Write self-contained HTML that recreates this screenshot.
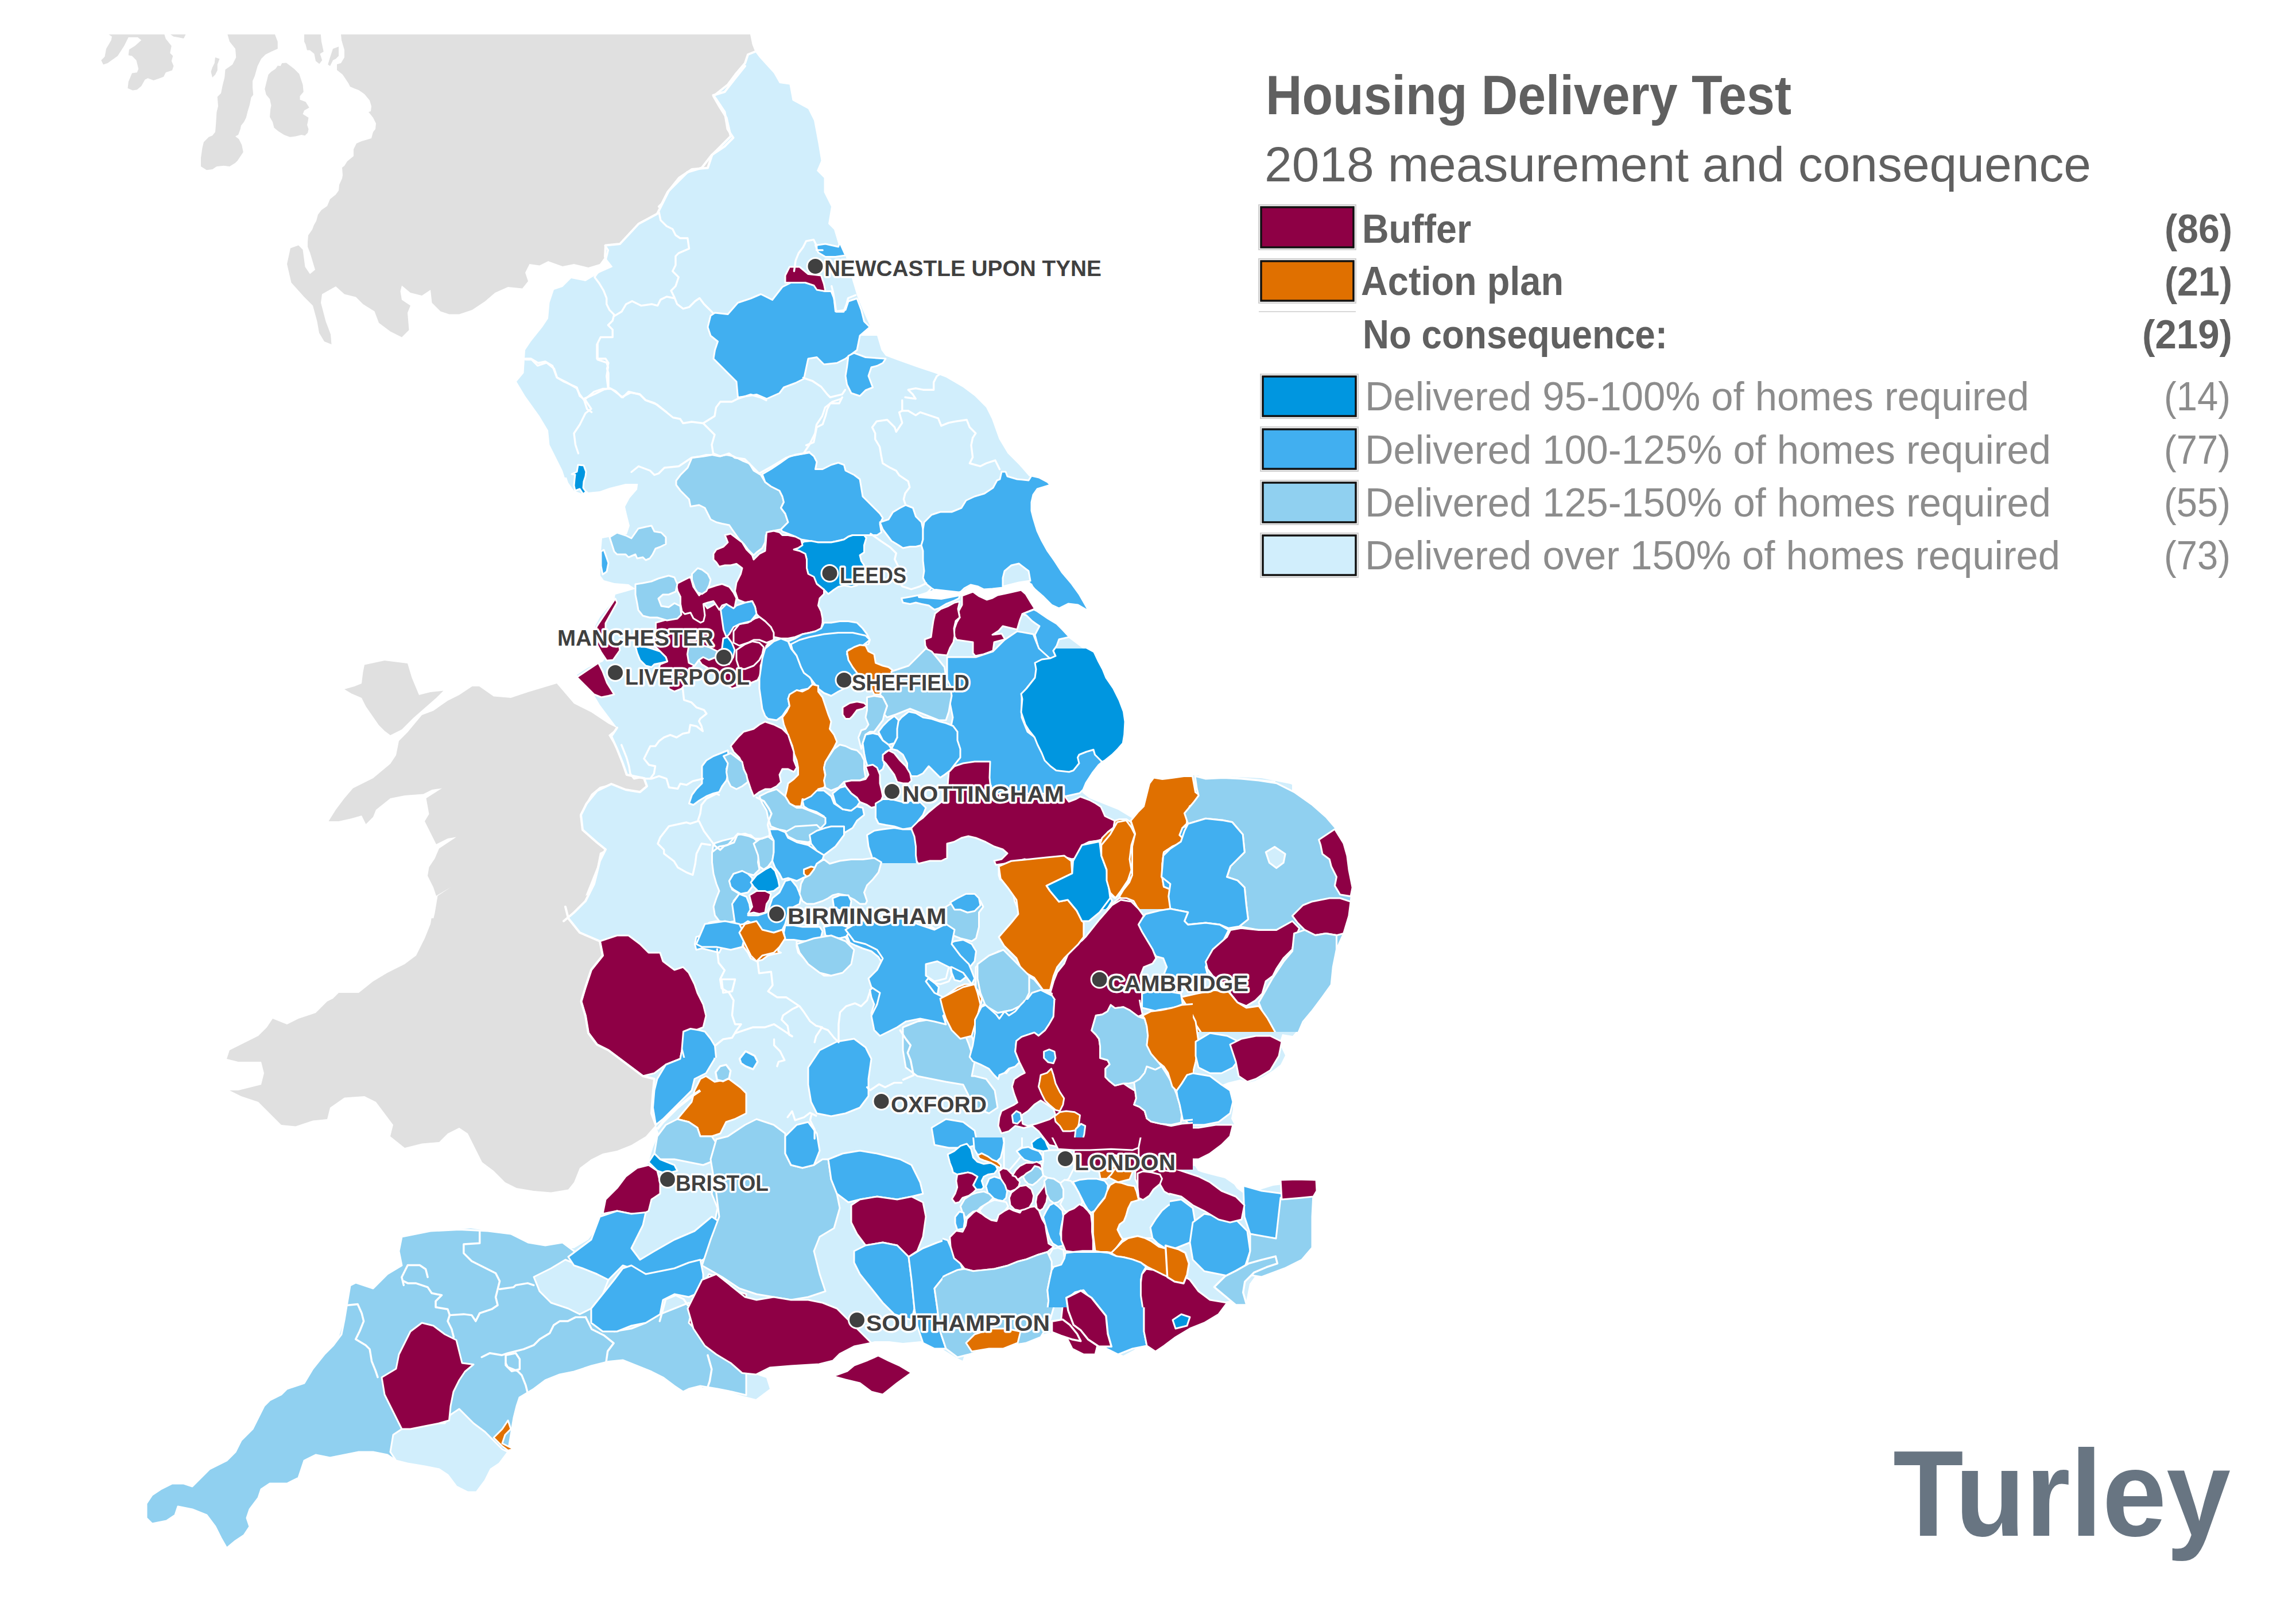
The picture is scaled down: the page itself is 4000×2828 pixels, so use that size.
<!DOCTYPE html>
<html><head><meta charset="utf-8"><title>Housing Delivery Test</title>
<style>
html,body{margin:0;padding:0;background:#fff;}
body{width:4000px;height:2828px;overflow:hidden;position:relative;}
svg{position:absolute;left:0;top:0;}
.t{font-family:"Liberation Sans",Arial,sans-serif;}
.lab{font-family:"Liberation Sans",Arial,sans-serif;font-weight:bold;font-size:38px;fill:#404040;stroke:#fff;stroke-width:7px;paint-order:stroke;stroke-linejoin:round;}
</style></head>
<body>
<svg width="4000" height="2828" viewBox="0 0 4000 2828" xmlns="http://www.w3.org/2000/svg">
<defs>
<clipPath id="mapclip"><rect x="0" y="60" width="4000" height="2768"/></clipPath>
<clipPath id="cA1"><rect x="0" y="0" width="1224" height="832"/></clipPath>
<clipPath id="cB1"><rect x="1222" y="0" width="1200" height="832"/></clipPath>
<clipPath id="cA2"><rect x="0" y="830" width="1224" height="772"/></clipPath>
<clipPath id="cB2"><rect x="1222" y="830" width="1029" height="772"/></clipPath>
<clipPath id="cC2"><rect x="2249" y="830" width="800" height="772"/></clipPath>
<clipPath id="cA3"><rect x="0" y="1600" width="1224" height="766"/></clipPath>
<clipPath id="cB3"><rect x="1222" y="1600" width="1029" height="766"/></clipPath>
<clipPath id="cC3"><rect x="2249" y="1600" width="800" height="766"/></clipPath>
<clipPath id="cA4"><rect x="0" y="2364" width="1224" height="500"/></clipPath>
<clipPath id="cB4"><rect x="1222" y="2364" width="1029" height="500"/></clipPath>
<clipPath id="cC4"><rect x="2249" y="2364" width="800" height="500"/></clipPath>
<clipPath id="cSE"><rect x="2249" y="830" width="800" height="2000"/><rect x="1222" y="1600" width="1800" height="1228"/></clipPath>
<clipPath id="cV2"><rect x="1098" y="1050" width="622" height="454"/></clipPath>
<clipPath id="cV3"><rect x="1600" y="1130" width="622" height="454"/></clipPath>
<clipPath id="cV5"><rect x="1650" y="1250" width="748" height="548"/></clipPath>
<clipPath id="cV7"><rect x="1098" y="1390" width="622" height="453"/></clipPath>
<clipPath id="cV8"><rect x="1682" y="1742" width="396" height="296"/></clipPath>
<clipPath id="cV9"><rect x="1642" y="1982" width="396" height="296"/></clipPath>
</defs>
<g clip-path="url(#mapclip)">
<!-- GRAY LAND -->
<g id="gray" fill="#e0e0e0">
<!--A1 gray-->
<g clip-path="url(#cA1)"><g transform="translate(150 40) scale(0.5)">
<path d="M888,40 L2296,40 L2296,150 L2260,195 L2225,240 L2185,252 L2197,268 L2225,310 L2235,370 L2255,400 L2225,430 L2180,460 L2145,505 L2095,520 L2030,585 L2010,625 L1990,665 L1925,700 L1860,770 L1810,775 L1808,815 L1790,840 L1750,852 L1700,840 L1660,848 L1610,830 L1580,845 L1545,840 L1530,870 L1540,900 L1520,925 L1470,920 L1425,940 L1390,970 L1345,1000 L1300,1015 L1265,1015 L1235,1005 L1205,975 L1200,930 L1170,950 L1130,940 L1100,915 L1095,935 L1100,965 L1130,985 L1120,1010 L1125,1070 L1100,1095 L1060,1075 L1020,1045 L1005,1005 L965,980 L940,955 L900,945 L870,918 L822,945 L818,975 L835,1040 L852,1085 L855,1120 L830,1110 L812,1080 L805,1040 L790,985 L760,955 L715,905 L700,840 L712,785 L740,775 L755,790 L763,850 L780,875 L798,860 L780,800 L772,780 L772,764 L774,740 L788,720 L794,704 L802,690 L808,668 L820,652 L840,638 L850,614 L870,598 L880,584 L882,564 L892,542 L894,530 L892,504 L900,498 L910,482 L932,464 L932,440 L942,420 L960,412 L974,408 L994,402 L1000,380 L1008,370 L1010,350 L1000,330 L984,310 L992,308 L994,290 L988,270 L970,248 L950,234 L934,228 L920,222 L914,210 L894,180 L874,164 L874,144 L888,140 L900,120 L900,94 L890,60 Z"/>
</g>
<g transform="translate(150 40) scale(0.25)">
<path d="M155,78 L545,78 L555,110 L595,160 L585,210 L605,230 L595,265 L610,300 L600,330 L555,345 L540,375 L500,390 L470,400 L430,385 L410,395 L385,440 L355,465 L325,470 L290,455 L295,410 L320,350 L355,345 L365,320 L350,260 L320,230 L295,225 L300,185 L340,160 L385,120 L360,100 L295,100 L265,160 L220,230 L150,280 L120,290 L105,260 L130,235 L140,180 L175,120 L180,95 Z"/>
<path d="M585,78 L695,78 L680,108 L640,100 L610,95 Z"/>
<path d="M900,240 L930,250 L915,290 L915,330 L900,360 L880,380 L870,340 L880,310 L895,280 Z"/>
<path d="M985,78 L1315,78 L1335,130 L1335,180 L1290,200 L1250,220 L1220,250 L1195,300 L1175,370 L1160,405 L1160,450 L1165,500 L1150,520 L1140,570 L1125,620 L1115,660 L1100,690 L1080,715 L1075,740 L1060,780 L1040,790 L1065,810 L1085,850 L1095,900 L1055,960 L1040,975 L1000,1000 L960,995 L910,1000 L880,1020 L840,1025 L800,1000 L800,940 L810,870 L820,830 L855,795 L880,785 L900,760 L905,700 L910,620 L920,580 L915,515 L940,490 L950,440 L965,380 L970,325 L1020,290 L1045,240 L1040,180 L1000,130 Z"/>
<path d="M1365,280 L1395,278 L1450,320 L1485,355 L1495,385 L1510,430 L1515,480 L1490,510 L1490,535 L1530,550 L1555,590 L1520,610 L1510,635 L1550,660 L1545,690 L1540,710 L1550,740 L1545,765 L1525,785 L1500,780 L1460,790 L1420,795 L1380,780 L1340,755 L1310,730 L1300,690 L1280,655 L1285,600 L1290,575 L1280,530 L1255,500 L1245,460 L1255,420 L1270,360 L1290,340 L1320,320 L1335,298 L1355,300 Z"/>
<path d="M1520,78 L1635,78 L1640,130 L1655,200 L1630,215 L1645,260 L1625,285 L1600,265 L1590,215 L1560,190 L1540,190 L1530,150 L1520,130 Z"/>
<path d="M1700,240 L1720,180 L1760,165 L1760,230 L1740,250 L1720,260 L1700,300 L1685,290 Z"/>
</g></g>
<!--A2 gray-->
<g clip-path="url(#cA2)"><g transform="translate(150 811) scale(0.5)">
<path d="M1640,760 L1540,790 L1480,810 L1420,805 L1370,770 L1345,770 L1300,800 L1260,820 L1210,855 L1170,870 L1120,930 L1090,960 L1080,1010 L1060,1040 L1000,1090 L960,1110 L930,1125 L900,1160 L870,1200 L845,1240 L880,1240 L925,1230 L960,1220 L975,1250 L1000,1225 L1010,1200 L1060,1160 L1110,1150 L1175,1145 L1205,1130 L1240,1125 L1185,1160 L1195,1215 L1180,1240 L1200,1280 L1220,1320 L1260,1300 L1290,1295 L1230,1335 L1215,1370 L1195,1400 L1190,1430 L1210,1470 L1220,1500 L1270,1470 L1225,1500 L1215,1560 L1200,1622 L1200,1700 L1660,1700 L1660,1622 L1670,1600 L1690,1570 L1720,1540 L1800,1510 L1800,1465 L1740,1500 L1760,1450 L1780,1400 L1790,1350 L1820,1335 L1800,1320 L1770,1300 L1730,1270 L1720,1220 L1740,1180 L1760,1145 L1790,1120 L1830,1110 L1870,1125 L1915,1140 L1955,1130 L1950,1090 L1880,1080 L1870,1040 L1850,990 L1820,940 L1850,915 L1820,900 L1760,860 L1700,830 Z"/>
<path d="M970,695 L1040,680 L1120,690 L1135,740 L1160,800 L1200,790 L1245,785 L1220,810 L1180,845 L1140,880 L1100,920 L1060,940 L1040,925 L1020,905 L975,840 L960,810 L925,795 L900,780 L935,770 L960,760 L965,720 Z"/>
</g></g>
<!--A3 gray-->
<g clip-path="url(#cA3)"><g transform="translate(150 1580) scale(0.5)">
<path d="M1210,0 L1200,60 L1180,110 L1150,170 L1110,200 L1050,230 L1000,260 L950,300 L880,300 L860,320 L840,330 L800,370 L740,390 L700,410 L650,390 L630,420 L600,450 L540,480 L500,500 L490,530 L530,540 L610,540 L620,580 L610,620 L570,630 L530,640 L500,640 L540,660 L600,680 L640,720 L680,760 L730,765 L790,745 L840,740 L850,700 L900,665 L970,660 L1010,680 L1040,720 L1070,760 L1060,800 L1110,840 L1170,825 L1230,820 L1260,790 L1300,770 L1330,790 L1360,850 L1380,890 L1420,920 L1460,960 L1500,980 L1560,990 L1620,995 L1680,985 L1700,960 L1720,910 L1760,880 L1800,860 L1850,850 L1900,830 L1950,800 L1985,760 L1970,720 L1975,650 L1980,600 L1940,590 L1900,560 L1860,530 L1820,500 L1780,480 L1750,440 L1740,380 L1725,330 L1740,280 L1760,220 L1800,170 L1790,120 L1720,90 L1680,40 L1670,0 L1670,-60 L1210,-60 Z"/>
</g></g>
<!--B1 gray-->
<g clip-path="url(#cB1)"><g transform="translate(1148 40) scale(0.5)">
<path d="M0,40 L318,40 L325,75 L335,100 L310,110 L300,140 L270,175 L240,215 L190,255 L210,290 L235,330 L250,395 L230,415 L185,460 L170,505 L115,510 L70,540 L30,590 L10,630 L0,640 Z"/>
</g></g>
</g>
<!-- ENGLAND BASE -->
<g id="base" fill="#d1eefc">
<g clip-path="url(#cA1)"><g transform="translate(150 40) scale(0.5)">
<path d="M2296,150 L2260,195 L2225,240 L2185,252 L2197,268 L2225,310 L2235,370 L2255,400 L2225,430 L2180,460 L2145,505 L2095,520 L2030,585 L2010,625 L1990,665 L1925,700 L1860,770 L1810,775 L1808,815 L1835,850 L1790,870 L1740,900 L1690,890 L1660,920 L1630,930 L1615,975 L1610,1030 L1590,1060 L1550,1110 L1530,1140 L1525,1220 L1500,1250 L1530,1300 L1580,1370 L1610,1420 L1615,1470 L1640,1520 L1660,1560 L1680,1622 L2296,1622 Z"/>
</g></g>
<g clip-path="url(#cB1)"><g transform="translate(1148 40) scale(0.5)">
<path d="M335,100 L350,120 L400,175 L420,210 L455,215 L465,270 L520,300 L540,340 L555,420 L565,480 L550,515 L575,540 L575,590 L600,640 L590,700 L610,720 L625,770 L650,810 L675,900 L690,950 L710,1000 L735,1055 L705,1090 L760,1090 L775,1140 L790,1160 L830,1175 L900,1200 L960,1220 L1000,1235 L1060,1270 L1100,1300 L1140,1340 L1160,1380 L1185,1450 L1215,1500 L1255,1540 L1290,1580 L1340,1590 L1365,1605 L1365,1622 L0,1622 L0,640 L10,630 L30,590 L70,540 L115,510 L170,505 L185,460 L230,415 L250,395 L235,330 L210,290 L190,255 L240,215 L270,175 L300,140 L310,110 Z"/>
</g></g>
<g clip-path="url(#cA2)">
<path d="M1116,826 L1230,826 L1230,1605 L982,1605 L1000,1590 L1020,1570 L1035,1540 L1045,1500 L1055,1480 L1040,1468 L1015,1446 L1012,1420 L1022,1400 L1040,1378 L1065,1366 L1090,1376 L1115,1380 L1127,1370 L1122,1356 L1092,1350 L1085,1330 L1075,1305 L1065,1283 L1075,1268 L1060,1248 L1045,1228 L1035,1211 L1017,1193 L1005,1176 L1025,1163 L1050,1153 L1055,1146 L1047,1128 L1040,1111 L1037,1091 L1045,1076 L1057,1061 L1070,1046 L1072,1036 L1090,1031 L1107,1026 L1095,1018 L1070,1016 L1052,1011 L1046,1003 L1046,986 L1047,961 L1049,938 L1060,936 L1075,931 L1092,931 L1097,916 L1092,896 L1089,883 L1097,868 L1110,853 L1112,838 Z"/>
<path d="M1017,826 L1117,826 L1117,843 L1090,843 L1062,850 L1045,856 L1025,858 L1017,850 Z"/>
<path d="M985,826 L1045,826 L1031,840 L1025,852 L1021,857 L1016,861 L1000,855 L990,841 Z"/>
</g>
<g clip-path="url(#cB2)"><g transform="translate(1148 811) scale(0.5)">
<path d="M0,0 L1290,0 L1298,36 L1324,42 L1354,58 L1364,68 L1338,76 L1318,82 L1304,102 L1298,158 L1304,182 L1318,228 L1334,262 L1354,298 L1378,332 L1404,372 L1438,412 L1464,448 L1488,490 L1495,502 L1470,490 L1420,480 L1380,470 L1350,470 L1330,480 L1310,495 L1350,540 L1400,580 L1440,610 L1480,640 L1520,680 L1550,720 L1580,790 L1600,830 L1620,880 L1625,930 L1610,970 L1570,1000 L1540,1020 L1510,1050 L1490,1080 L1475,1140 L1500,1160 L1550,1180 L1600,1200 L1650,1230 L1700,1230 L1740,1150 L1790,1100 L1850,1080 L1880,1080 L1900,1100 L1950,1090 L2000,1085 L2100,1090 L2200,1110 L2250,1130 L2296,1150 L2296,1622 L0,1622 Z"/>
</g></g>
<g clip-path="url(#cA3)"><g transform="translate(150 1580) scale(0.5)">
<path d="M1670,-60 L2296,-60 L2296,1700 L700,1700 L780,1622 L820,1570 L860,1530 L880,1500 L900,1440 L910,1380 L920,1320 L940,1310 L1000,1330 L1050,1280 L1100,1250 L1090,1200 L1100,1150 L1150,1140 L1250,1130 L1340,1120 L1400,1130 L1480,1140 L1540,1170 L1600,1180 L1660,1190 L1700,1190 L1750,1160 L1780,1120 L1800,1060 L1840,1020 L1900,975 L1940,930 L1960,890 L1975,840 L1995,790 L1985,760 L1970,720 L1975,650 L1980,600 L1940,590 L1900,560 L1860,530 L1820,500 L1780,480 L1750,440 L1740,380 L1725,330 L1740,280 L1760,220 L1800,170 L1790,120 L1720,90 L1680,40 L1670,0 Z"/>
</g></g>
<g clip-path="url(#cSE)"><path d="M1223,1340 L2082,1352 L2100,1357 L2131,1355 L2162,1357 L2193,1360 L2224,1365 L2255,1380 L2285,1402 L2310,1423 L2328,1445 L2341,1469 L2347,1491 L2350,1516 L2356,1546 L2353,1571 L2350,1596 L2341,1627 L2328,1654 L2322,1685 L2319,1716 L2304,1737 L2291,1750 L2278,1771 L2270,1784 L2252,1805 L2234,1802 L2229,1818 L2239,1839 L2231,1855 L2218,1865 L2202,1875 L2187,1883 L2176,1886 L2161,1881 L2140,1886 L2127,1891 L2121,1896 L2140,1902 L2148,1912 L2148,1933 L2145,1949 L2150,1959 L2134,1977 L2121,1990 L2108,2001 L2087,2006 L2061,2009 L2051,2011 L2046,2024 L2061,2027 L2082,2032 L2087,2040 L2095,2043 L2114,2048 L2134,2053 L2150,2064 L2155,2071 L2166,2079 L2192,2074 L2218,2066 L2234,2064 L2257,2058 L2289,2056 L2294,2064 L2291,2079 L2276,2090 L2273,2100 L2281,2116 L2286,2137 L2286,2158 L2283,2174 L2268,2192 L2240,2200 L2220,2200 L2195,2212 L2177,2237 L2171,2267 L2140,2267 L2110,2273 L2073,2291 L2037,2310 L2000,2331 L1976,2352 L1957,2362 L1933,2352 L1902,2340 L1866,2328 L1829,2322 L1793,2331 L1744,2337 L1707,2346 L1683,2352 L1677,2371 L1665,2365 L1634,2346 L1604,2337 L1573,2340 L1549,2337 L1524,2337 L1512,2340 L1488,2346 L1463,2359 L1451,2371 L1427,2377 L1378,2380 L1341,2383 L1317,2395 L1335,2401 L1341,2420 L1317,2438 L1293,2432 L1244,2416 L1223,2418 Z"/></g>
</g>
<!-- COLOURED REGIONS -->
<g id="regions" stroke="#fff" stroke-width="3" stroke-linejoin="round">
<!--A4 2x 150,2200-->
<g transform="translate(150 2200) scale(0.5)" stroke-width="6">
<path fill="#90d0f0" d="M1100,-90 L1200,-110 L1300,-115 L1400,-110 L1480,-100 L1540,-70 L1600,-60 L1660,-70 L1700,-40 L1740,20 L1760,90 L1780,160 L1840,240 L1900,230 L1950,210 L2000,180 L2050,160 L2100,140 L2200,320 L2300,320 L2300,462 L2250,450 L2200,440 L2140,430 L2100,440 L2080,450 L2050,430 L2010,400 L1970,380 L1920,360 L1870,340 L1820,345 L1760,360 L1700,380 L1650,390 L1600,410 L1560,440 L1510,470 L1500,500 L1490,540 L1480,600 L1470,660 L1440,700 L1410,720 L1390,760 L1360,800 L1330,800 L1290,780 L1260,740 L1230,720 L1180,710 L1120,700 L1080,690 L1050,670 L1000,660 L950,660 L900,670 L850,680 L800,670 L760,690 L740,750 L700,770 L640,770 L610,790 L600,820 L570,860 L560,890 L570,920 L550,950 L520,970 L490,995 L470,960 L450,920 L420,880 L370,860 L320,850 L310,880 L280,900 L230,910 L210,890 L210,840 L230,810 L260,790 L300,770 L340,770 L370,780 L400,750 L430,720 L490,690 L520,660 L540,620 L560,600 L580,580 L600,540 L620,500 L640,480 L680,460 L700,440 L760,420 L790,370 L830,320 L860,290 L890,250 L900,200 L910,140 L920,80 L940,70 L1000,90 L1050,40 L1100,10 L1090,-40 Z"/>
<path fill="#d1eefc" d="M1070,600 L1100,580 L1150,570 L1200,560 L1250,560 L1270,530 L1300,510 L1330,540 L1350,560 L1390,590 L1420,620 L1450,650 L1470,660 L1440,700 L1410,720 L1390,760 L1360,800 L1330,800 L1290,780 L1260,740 L1230,720 L1180,710 L1120,700 L1080,690 L1060,660 Z"/>
<path fill="#8e0045" d="M1030,400 L1080,370 L1090,320 L1110,280 L1130,240 L1170,210 L1210,220 L1250,250 L1290,270 L1300,310 L1310,350 L1350,355 L1320,380 L1300,410 L1280,450 L1270,500 L1265,550 L1230,560 L1180,570 L1130,580 L1100,580 L1080,540 L1060,500 L1040,460 Z"/>
<path fill="#e07000" d="M1420,610 L1450,580 L1470,550 L1480,580 L1460,600 L1450,630 L1470,640 L1490,650 L1470,655 L1450,640 L1430,620 Z"/>
</g>
<!--A3 2x 150,1580-->
<g transform="translate(150 1580) scale(0.5)" stroke-width="6">
<path fill="#d1eefc" d="M1560,1290 L1620,1260 L1670,1230 L1720,1250 L1780,1280 L1820,1300 L1800,1350 L1760,1400 L1720,1420 L1680,1400 L1620,1380 L1580,1340 Z"/>
<path fill="#8e0045" d="M1800,170 L1790,120 L1850,100 L1890,100 L1930,130 L1960,160 L2000,160 L2010,190 L2050,220 L2080,210 L2100,230 L2120,270 L2130,300 L2150,340 L2160,380 L2150,420 L2100,440 L2080,480 L2070,530 L2020,550 L1980,580 L1940,590 L1900,560 L1860,530 L1820,500 L1780,480 L1750,440 L1740,380 L1725,330 L1740,280 L1760,220 Z"/>
<path fill="#41aff0" d="M1990,600 L2020,550 L2070,530 L2080,480 L2100,440 L2140,440 L2180,470 L2190,530 L2160,580 L2120,600 L2110,640 L2060,690 L2010,740 L1985,760 L1975,700 L1980,640 Z"/>
<path fill="#e07000" d="M2060,740 L2110,680 L2120,640 L2140,600 L2160,590 L2190,610 L2240,600 L2280,630 L2300,650 L2300,720 L2260,740 L2230,750 L2210,790 L2180,800 L2140,800 L2130,770 L2100,750 Z"/>
<path fill="#90d0f0" d="M1980,860 L1990,800 L2020,760 L2060,740 L2100,750 L2130,770 L2140,800 L2180,800 L2200,830 L2200,880 L2150,900 L2100,890 L2050,880 L2000,880 Z"/>
<path fill="#90d0f0" d="M2200,830 L2250,810 L2300,800 L2300,1300 L2250,1260 L2200,1250 L2180,1200 L2190,1100 L2200,1050 L2180,1000 L2190,950 L2200,880 Z"/>
<path fill="#0096e0" d="M1960,890 L1980,860 L2000,880 L2050,900 L2060,920 L2020,930 L1990,920 Z"/>
<path fill="#8e0045" d="M1800,1070 L1810,1020 L1850,980 L1880,940 L1920,910 L1960,900 L1990,920 L2000,960 L2000,1000 L1970,1020 L1960,1060 L1940,1070 L1900,1070 L1850,1060 Z"/>
<path fill="#41aff0" d="M1680,1220 L1720,1190 L1760,1160 L1790,1080 L1850,1060 L1900,1070 L1950,1065 L1940,1110 L1920,1150 L1900,1190 L1930,1230 L1980,1200 L2050,1160 L2120,1130 L2180,1080 L2210,1100 L2200,1150 L2180,1200 L2150,1230 L2100,1250 L2050,1270 L2000,1280 L1980,1290 L1950,1280 L1900,1260 L1870,1250 L1840,1280 L1820,1300 L1780,1280 L1730,1260 L1700,1250 Z"/>
<path fill="#41aff0" d="M1760,1400 L1800,1350 L1840,1300 L1870,1260 L1900,1250 L1950,1280 L2000,1270 L2050,1260 L2100,1240 L2140,1230 L2150,1280 L2150,1340 L2100,1360 L2050,1350 L2010,1370 L2000,1420 L1950,1450 L1900,1460 L1850,1480 L1800,1480 L1760,1450 Z"/>
<path fill="#8e0045" d="M2100,1450 L2120,1370 L2150,1320 L2170,1280 L2200,1290 L2240,1330 L2300,1350 L2300,1560 L2250,1540 L2200,1530 L2170,1500 L2130,1480 Z"/>
<path fill="none" stroke="#fff" stroke-width="10" d="M2140,640 L2110,660 L2060,700 L2010,750 L1990,775"/>
</g>
<!--V4 4x 900,1050-->
<g transform="translate(900 1050) scale(0.25)" stroke-width="12">
<path fill="#8e0045" d="M420,520 L480,480 L570,420 L600,480 L630,560 L680,640 L640,650 L590,660 L540,640 L480,580 Z"/>
<path fill="#8e0045" d="M970,140 L1040,120 L1100,100 L1150,40 L1150,0 L1300,0 L1330,40 L1400,0 L1500,0 L1530,60 L1520,150 L1560,180 L1600,140 L1660,110 L1700,100 L1760,140 L1790,200 L1780,260 L1740,300 L1720,380 L1700,440 L1700,500 L1680,540 L1610,570 L1530,590 L1500,600 L1450,560 L1420,520 L1380,470 L1340,460 L1290,430 L1270,400 L1240,440 L1200,470 L1180,560 L1150,600 L1100,620 L1060,600 L1060,560 L1010,520 L990,460 L1000,430 L1050,410 L1040,380 L1000,340 L960,300 L960,250 L970,200 Z"/>
<path fill="#0096e0" d="M830,310 L870,300 L940,320 L1000,340 L1040,380 L1050,410 L1010,420 L960,430 L940,450 L900,440 L860,400 L840,350 Z"/>
<path fill="#90d0f0" d="M1200,300 L1260,290 L1340,310 L1400,340 L1390,380 L1340,400 L1300,380 L1270,400 L1240,440 L1200,420 L1190,360 Z"/>
<path fill="#0096e0" d="M1440,250 L1470,240 L1500,280 L1520,330 L1510,380 L1480,430 L1450,400 L1430,330 Z"/>
</g>
<!--V1 4x 1148,760-->
<g transform="translate(1148 760) scale(0.25)" stroke-width="12">
<path fill="#90d0f0" d="M120,310 L150,270 L200,220 L230,150 L290,140 L330,130 L370,130 L420,140 L470,130 L520,140 L580,170 L630,190 L660,240 L710,270 L740,320 L780,350 L840,380 L860,420 L870,460 L850,500 L880,540 L900,600 L870,630 L850,650 L770,665 L745,690 L740,740 L720,780 L680,810 L660,830 L620,790 L590,750 L560,720 L510,650 L490,620 L440,610 L400,600 L360,580 L340,540 L320,500 L280,480 L220,490 L210,440 L180,410 L150,380 L120,340 Z"/>
<path fill="#41aff0" d="M720,265 L780,230 L840,190 L910,140 L990,125 L1050,115 L1080,140 L1100,180 L1090,230 L1140,230 L1200,200 L1250,185 L1290,200 L1300,240 L1360,270 L1400,300 L1410,360 L1420,420 L1460,460 L1500,500 L1540,540 L1560,570 L1540,610 L1550,670 L1520,690 L1430,690 L1350,690 L1320,700 L1290,720 L1200,740 L1100,740 L1050,730 L990,720 L950,700 L900,680 L860,665 L850,650 L870,630 L900,600 L880,540 L850,500 L870,460 L860,420 L840,380 L780,350 L740,320 Z"/>
<path fill="#41aff0" d="M1540,600 L1600,580 L1630,530 L1680,500 L1720,480 L1770,500 L1790,560 L1830,600 L1840,650 L1840,720 L1830,760 L1790,770 L1750,770 L1700,780 L1670,760 L1620,730 L1590,690 L1560,650 Z"/>
<path fill="#0096e0" d="M1010,735 L1060,730 L1110,740 L1200,740 L1250,730 L1290,720 L1320,700 L1350,690 L1390,690 L1430,690 L1445,710 L1430,760 L1430,810 L1400,830 L1410,870 L1430,900 L1420,960 L1400,1000 L1380,1040 L1340,1050 L1290,1040 L1250,1050 L1220,1070 L1180,1100 L1150,1070 L1100,1030 L1070,990 L1040,960 L1030,920 L1030,860 L1020,820 L980,800 L940,790 L930,760 L970,760 L990,750 Z"/>
<path fill="#8e0045" d="M380,820 L400,790 L450,770 L480,740 L460,690 L500,680 L540,710 L580,740 L610,790 L650,830 L660,860 L700,820 L740,800 L745,740 L750,670 L800,660 L840,670 L860,690 L900,690 L950,700 L990,720 L1000,760 L970,780 L940,790 L980,800 L1020,820 L1030,860 L1030,920 L1040,960 L1080,980 L1100,1030 L1150,1070 L1150,1100 L1120,1130 L1110,1180 L1130,1220 L1140,1270 L1140,1300 L1130,1340 L1090,1360 L1050,1370 L1000,1380 L950,1400 L900,1410 L850,1410 L800,1400 L780,1330 L740,1290 L700,1260 L680,1240 L670,1190 L650,1150 L600,1160 L550,1140 L530,1080 L540,1020 L570,960 L580,920 L540,890 L500,900 L460,900 L420,910 L400,880 L380,860 Z"/>
<path fill="#8e0045" d="M120,1030 L180,1000 L220,980 L240,1050 L280,1110 L290,1100 L340,1060 L400,1040 L440,1030 L490,1050 L520,1090 L540,1130 L530,1180 L520,1220 L480,1200 L470,1170 L440,1180 L420,1210 L400,1180 L380,1150 L340,1160 L310,1170 L320,1250 L310,1290 L290,1300 L240,1270 L220,1230 L180,1240 L160,1220 L150,1170 L150,1120 L130,1080 Z"/>
<path fill="#8e0045" d="M520,1360 L560,1310 L620,1300 L670,1270 L700,1260 L740,1290 L780,1330 L800,1370 L800,1420 L750,1440 L700,1420 L660,1420 L620,1440 L560,1460 L520,1440 Z"/>
<path fill="#8e0045" d="M540,1490 L600,1450 L650,1430 L700,1440 L730,1470 L720,1520 L700,1560 L660,1600 L600,1623 L560,1623 L540,1560 Z"/>
<path fill="#41aff0" d="M430,1210 L470,1170 L520,1200 L540,1180 L600,1160 L650,1150 L670,1190 L680,1240 L640,1290 L560,1310 L520,1330 L490,1380 L470,1400 L450,1350 L440,1280 Z"/>
<path fill="#90d0f0" d="M230,960 L270,920 L300,930 L340,960 L360,1000 L350,1040 L330,1080 L300,1100 L270,1090 L250,1060 L230,1000 Z"/>
<path fill="#41aff0" d="M1690,1130 L1750,1120 L1800,1110 L1860,1100 L1900,1060 L1940,1050 L1950,1090 L2000,1100 L2050,1110 L2100,1100 L2090,1130 L2050,1150 L2000,1170 L1950,1200 L1920,1210 L1880,1180 L1830,1170 L1790,1160 L1750,1170 L1700,1160 Z"/>
<path fill="#41aff0" d="M900,1430 L950,1410 L1000,1380 L1050,1370 L1090,1360 L1130,1340 L1150,1300 L1200,1300 L1260,1290 L1320,1290 L1380,1300 L1420,1340 L1450,1380 L1470,1420 L1460,1450 L1400,1460 L1340,1470 L1310,1490 L1280,1530 L1250,1520 L1220,1500 L1180,1480 L1120,1470 L1050,1470 L1000,1470 L960,1500 L930,1480 Z"/>
</g>
<!--S source coords-->
<g id="S">
<path fill="#0096e0" d="M1007,810 L1017,811 L1021,822 L1020,830 L1017,839 L1016,850 L1021,857 L1016,861 L1010,852 L1002,855 L1000,846 L1001,835 L1002,827 L996,826 L1005,822 Z"/>
<path fill="#41aff0" d="M1610,910 L1623,897 L1638,892 L1658,892 L1675,885 L1683,872 L1698,865 L1715,860 L1730,850 L1737,837 L1742,835 L1745,822 L1752,822 L1755,830 L1772,835 L1792,837 L1797,829 L1810,832 L1825,840 L1830,845 L1817,849 L1807,852 L1800,862 L1797,875 L1797,890 L1800,902 L1807,925 L1815,942 L1825,960 L1837,977 L1850,997 L1867,1017 L1880,1035 L1892,1056 L1897,1065 L1878,1054 L1861,1052 L1845,1060 L1832,1054 L1818,1040 L1803,1027 L1792,1014 L1775,1014 L1747,1024 L1729,1026 L1714,1027 L1704,1022 L1691,1019 L1680,1025 L1674,1031 L1660,1037 L1648,1035 L1635,1032 L1623,1025 L1613,1017 L1608,1007 L1610,995 L1608,977 L1608,960 L1605,950 L1608,940 L1608,922 Z"/>
<path fill="#d1eefc" d="M1750,995 L1762,985 L1775,982 L1792,995 L1795,1012 L1775,1015 L1747,1022 L1747,1007 Z"/>
<path fill="#8e0045" d="M1676,1038 L1695,1031 L1706,1039 L1719,1045 L1729,1042 L1738,1037 L1757,1033 L1779,1028 L1787,1035 L1796,1050 L1803,1061 L1781,1070 L1777,1080 L1772,1097 L1747,1091 L1740,1099 L1729,1106 L1745,1104 L1751,1114 L1732,1119 L1730,1134 L1714,1140 L1699,1143 L1695,1138 L1695,1119 L1667,1115 L1662,1108 L1663,1095 L1667,1084 L1672,1076 L1670,1065 L1676,1054 Z"/>
<path fill="#8e0045" d="M1672,1048 L1669,1061 L1672,1076 L1665,1082 L1662,1095 L1663,1108 L1661,1119 L1655,1129 L1650,1142 L1631,1140 L1620,1140 L1612,1125 L1611,1114 L1622,1110 L1624,1095 L1626,1082 L1629,1069 L1639,1061 L1652,1056 L1663,1050 Z"/>
<path fill="#41aff0" d="M1781,1070 L1801,1062 L1807,1065 L1826,1078 L1841,1087 L1851,1097 L1863,1110 L1845,1114 L1841,1125 L1835,1134 L1839,1143 L1830,1147 L1822,1147 L1817,1138 L1809,1129 L1805,1114 L1803,1106 L1811,1091 L1805,1087 L1798,1082 L1788,1072 Z"/>
<path fill="#41aff0" d="M1650,1145 L1700,1145 L1730,1135 L1750,1115 L1772,1100 L1800,1105 L1810,1130 L1830,1148 L1800,1185 L1780,1210 L1780,1250 L1790,1275 L1830,1305 L1855,1325 L1878,1313 L1904,1306 L1920,1328 L1914,1333 L1903,1347 L1892,1364 L1887,1376 L1881,1382 L1800,1400 L1700,1400 L1660,1380 L1650,1300 L1660,1250 L1650,1200 Z"/>
<path fill="#8e0045" d="M1653,1345 L1663,1335 L1678,1330 L1698,1327 L1725,1327 L1724,1355 L1725,1365 L1730,1383 L1852,1383 L1862,1397 L1875,1392 L1882,1388 L1898,1394 L1909,1400 L1918,1406 L1922,1415 L1925,1422 L1931,1425 L1942,1430 L1940,1442 L1930,1450 L1922,1462 L1912,1465 L1897,1467 L1887,1472 L1882,1485 L1880,1495 L1867,1497 L1860,1495 L1845,1497 L1835,1502 L1820,1500 L1807,1500 L1800,1502 L1785,1497 L1770,1502 L1750,1505 L1735,1507 L1732,1500 L1745,1497 L1755,1487 L1747,1480 L1732,1475 L1717,1467 L1700,1460 L1687,1457 L1675,1460 L1662,1467 L1650,1470 L1650,1495 L1640,1500 L1620,1500 L1600,1505 L1590,1490 L1588,1460 L1588,1442 L1598,1432 L1608,1425 L1618,1415 L1630,1405 L1643,1395 L1650,1380 Z"/>
<path fill="#8e0045" d="M1072,1043 L1062,1058 L1050,1076 L1040,1091 L1035,1106 L1040,1123 L1047,1136 L1057,1151 L1068,1150 L1080,1133 L1078,1122 L1062,1116 L1055,1106 L1055,1086 L1065,1068 L1075,1050 Z"/>
<path fill="#90d0f0" d="M1062,936 L1075,928 L1090,933 L1100,938 L1112,921 L1125,918 L1135,916 L1140,926 L1152,928 L1160,936 L1160,948 L1150,953 L1142,956 L1137,966 L1132,973 L1125,976 L1120,971 L1110,973 L1107,966 L1095,971 L1090,966 L1075,966 L1070,961 Z"/>
<path fill="#41aff0" d="M1047,961 L1052,958 L1060,981 L1057,996 L1050,1001 L1047,986 Z"/>
<path fill="#90d0f0" d="M1107,1018 L1120,1016 L1135,1013 L1147,1008 L1165,1003 L1175,1006 L1180,1018 L1177,1031 L1165,1036 L1155,1036 L1147,1043 L1152,1056 L1165,1058 L1175,1051 L1185,1056 L1187,1071 L1180,1078 L1162,1081 L1145,1076 L1132,1076 L1120,1073 L1112,1063 L1110,1051 L1107,1036 Z"/>
<path fill="#fff" stroke="none" d="M1598,1037 L1630,1026 L1675,1031 L1691,1020 L1704,1023 L1714,1028 L1729,1027 L1747,1025 L1775,1015 L1792,1015 L1798,1017 L1803,1028 L1818,1041 L1832,1055 L1845,1061 L1861,1053 L1878,1055 L1897,1066 L1900,1080 L1860,1095 L1807,1065 L1803,1061 L1796,1050 L1787,1035 L1779,1028 L1757,1033 L1738,1037 L1729,1042 L1719,1045 L1706,1039 L1695,1031 L1676,1038 L1640,1045 L1600,1042 Z"/>
</g>
<!--V2 4x 1148,1100-->
<g clip-path="url(#cV2)"><g transform="translate(1148 1100) scale(0.25)" stroke-width="12">
<path fill="#41aff0" d="M740,120 L800,70 L850,50 L900,70 L920,120 L960,170 L990,250 L1030,300 L1060,330 L1070,370 L1040,400 L990,410 L940,440 L900,470 L910,520 L880,560 L860,590 L820,620 L760,610 L740,590 L720,540 L710,470 L700,400 L700,330 L710,260 L720,190 Z"/>
<path fill="#41aff0" d="M920,90 L980,60 L1050,40 L1150,20 L1250,10 L1350,10 L1440,30 L1470,60 L1420,100 L1370,110 L1320,130 L1310,160 L1330,200 L1350,250 L1380,270 L1400,300 L1380,340 L1330,360 L1290,400 L1250,420 L1200,450 L1150,430 L1110,400 L1080,360 L1050,320 L1010,290 L990,250 L960,170 L930,130 Z"/>
<path fill="#e07000" d="M1310,140 L1360,110 L1400,95 L1440,100 L1460,140 L1500,160 L1510,220 L1560,240 L1600,250 L1640,280 L1620,320 L1590,360 L1560,400 L1540,440 L1500,440 L1480,400 L1460,360 L1420,330 L1380,290 L1350,250 L1320,200 Z"/>
<path fill="#90d0f0" d="M1620,280 L1680,260 L1740,240 L1780,200 L1820,160 L1860,120 L1900,140 L1950,200 L1990,250 L2000,320 L2030,380 L2040,450 L2030,500 L2020,560 L2000,620 L1950,620 L1900,600 L1850,580 L1800,560 L1750,540 L1700,560 L1650,580 L1590,600 L1570,580 L1590,520 L1560,460 L1540,440 L1560,400 L1590,360 L1620,320 Z"/>
<path fill="#e07000" d="M910,440 L960,410 L1000,420 L1040,400 L1070,370 L1110,380 L1110,420 L1140,460 L1160,520 L1180,580 L1200,630 L1190,680 L1220,720 L1240,770 L1220,810 L1190,860 L1160,910 L1150,960 L1160,1010 L1170,1050 L1150,1090 L1110,1100 L1080,1150 L1040,1180 L1000,1170 L990,1220 L950,1220 L910,1200 L880,1150 L890,1110 L900,1060 L940,1030 L970,1000 L970,950 L960,900 L940,850 L930,800 L910,750 L890,700 L870,650 L860,600 L890,560 L910,520 L900,470 Z"/>
<path fill="#8e0045" d="M500,800 L550,740 L590,700 L660,680 L700,650 L740,630 L800,650 L860,680 L900,720 L920,780 L940,840 L940,900 L960,950 L940,980 L900,960 L860,960 L840,1000 L850,1050 L820,1080 L780,1100 L740,1100 L700,1120 L660,1150 L640,1100 L620,1040 L600,990 L580,920 L560,880 L520,840 Z"/>
<path fill="#8e0045" d="M1280,530 L1330,500 L1380,490 L1430,500 L1450,520 L1420,540 L1380,550 L1350,590 L1330,610 L1300,610 L1280,580 Z"/>
<path fill="#90d0f0" d="M1450,460 L1500,450 L1560,460 L1590,520 L1570,580 L1560,620 L1530,660 L1500,700 L1470,700 L1440,720 L1420,780 L1410,820 L1400,780 L1390,740 L1410,690 L1440,680 L1460,650 L1440,600 L1450,550 Z"/>
<path fill="#90d0f0" d="M1180,880 L1220,820 L1260,790 L1300,800 L1340,820 L1380,830 L1410,860 L1430,900 L1430,960 L1440,1020 L1400,1040 L1340,1040 L1290,1050 L1250,1090 L1200,1110 L1160,1090 L1150,1040 L1160,1000 L1150,950 L1160,910 Z"/>
<path fill="#41aff0" d="M1640,660 L1690,600 L1740,560 L1790,570 L1840,600 L1900,610 L1960,630 L2000,640 L2050,660 L2080,700 L2080,760 L2100,820 L2100,880 L2060,930 L2030,970 L1990,1000 L1960,1020 L1900,960 L1880,940 L1840,990 L1800,1010 L1760,1010 L1730,970 L1730,920 L1700,860 L1660,830 L1620,820 L1640,780 L1660,740 L1640,700 Z"/>
<path fill="#41aff0" d="M1440,720 L1490,710 L1530,720 L1560,760 L1600,790 L1620,820 L1580,840 L1560,880 L1570,930 L1560,960 L1520,990 L1490,1000 L1460,960 L1440,900 L1430,850 L1420,780 Z"/>
<path fill="#41aff0" d="M1530,700 L1560,660 L1600,620 L1640,590 L1670,620 L1660,680 L1660,740 L1640,780 L1600,790 L1560,760 Z"/>
<path fill="#8e0045" d="M1440,940 L1490,930 L1520,950 L1540,1000 L1540,1060 L1550,1100 L1560,1150 L1540,1200 L1520,1220 L1480,1230 L1450,1210 L1400,1190 L1380,1160 L1340,1130 L1300,1080 L1290,1050 L1340,1040 L1400,1040 L1440,1030 L1460,1000 Z"/>
<path fill="#8e0045" d="M1560,860 L1600,830 L1640,850 L1680,900 L1720,940 L1750,990 L1760,1040 L1740,1060 L1700,1060 L1660,1050 L1640,1000 L1610,960 L1580,920 L1560,900 Z"/>
<path fill="#41aff0" d="M1000,1180 L1060,1150 L1100,1110 L1150,1110 L1200,1150 L1220,1200 L1280,1240 L1330,1250 L1370,1220 L1420,1230 L1430,1280 L1380,1320 L1350,1370 L1300,1400 L1250,1420 L1200,1460 L1170,1500 L1140,1560 L1100,1560 L1060,1540 L1050,1500 L1050,1450 L1080,1410 L1130,1370 L1160,1330 L1150,1290 L1100,1260 L1040,1240 L1010,1220 Z"/>
<path fill="#41aff0" d="M1210,1130 L1260,1090 L1300,1080 L1340,1130 L1380,1160 L1400,1190 L1380,1220 L1340,1250 L1280,1240 L1230,1200 Z"/>
<path fill="#41aff0" d="M1510,1200 L1560,1170 L1620,1170 L1700,1190 L1760,1180 L1820,1190 L1860,1230 L1840,1280 L1800,1330 L1760,1370 L1700,1380 L1640,1360 L1580,1350 L1530,1340 L1510,1300 L1510,1250 Z"/>
<path fill="#41aff0" d="M1450,1420 L1500,1390 L1560,1380 L1640,1370 L1700,1380 L1760,1380 L1780,1430 L1790,1500 L1790,1560 L1800,1630 L1500,1630 L1480,1560 L1460,1500 Z"/>
<path fill="#90d0f0" d="M700,1150 L760,1120 L820,1100 L880,1150 L910,1200 L960,1230 L1000,1230 L1050,1250 L1100,1270 L1160,1300 L1160,1340 L1130,1370 L1080,1410 L1050,1450 L1000,1460 L960,1440 L920,1410 L880,1390 L830,1380 L780,1360 L760,1300 L750,1250 L720,1200 Z"/>
<path fill="#41aff0" d="M770,1380 L830,1380 L880,1400 L920,1420 L960,1450 L1000,1470 L1040,1480 L1060,1540 L1080,1630 L780,1630 L760,1550 L770,1480 Z"/>
<path fill="#41aff0" d="M210,1200 L230,1140 L260,1100 L300,1060 L300,1000 L300,940 L330,900 L380,870 L430,850 L480,830 L490,900 L470,960 L480,1000 L470,1040 L440,1080 L420,1120 L380,1130 L330,1150 L280,1180 L240,1210 Z"/>
<path fill="#90d0f0" d="M450,870 L500,850 L540,880 L580,910 L590,960 L610,1000 L620,1050 L580,1080 L540,1100 L500,1080 L480,1040 L470,980 L480,920 Z"/>
<path fill="#90d0f0" d="M380,1480 L440,1460 L520,1440 L580,1420 L640,1420 L680,1460 L690,1540 L700,1630 L370,1630 L370,1550 Z"/>
</g></g>
<!--V3 4x 1650,1180-->
<g clip-path="url(#cV3)"><g transform="translate(1650 1180) scale(0.25)" stroke-width="12">
<path fill="#0096e0" d="M764,-220 L788,-264 L840,-264 L884,-260 L912,-236 L972,-204 L1024,-176 L1056,-108 L1084,-56 L1108,4 L1160,80 L1200,160 L1230,240 L1240,310 L1235,400 L1225,460 L1190,500 L1150,540 L1100,580 L1080,590 L1030,540 L1020,505 L970,520 L920,540 L910,560 L920,600 L880,650 L850,660 L760,650 L720,620 L680,580 L660,530 L630,470 L610,420 L570,370 L545,330 L516,244 L524,152 L516,116 L552,80 L612,4 L620,-56 L612,-100 L660,-124 L720,-132 L756,-148 L740,-184 Z"/>
<path fill="#e07000" d="M360,1330 L420,1300 L480,1290 L540,1270 L600,1290 L630,1280 L680,1280 L740,1290 L780,1270 L840,1260 L870,1380 L800,1400 L750,1420 L690,1450 L660,1490 L620,1510 L580,1550 L520,1470 L470,1430 L400,1420 L370,1410 L360,1380 Z"/>
<path fill="#e07000" d="M450,1440 L500,1460 L540,1510 L580,1550 L630,1500 L670,1490 L720,1540 L790,1560 L830,1540 L860,1600 L870,1630 L500,1630 L470,1560 Z"/>
<path fill="#0096e0" d="M930,1220 L950,1170 L990,1150 L1050,1140 L1070,1150 L1060,1240 L1080,1290 L1120,1330 L1110,1400 L1130,1450 L1130,1520 L1150,1560 L1120,1610 L1100,1630 L880,1630 L830,1540 L760,1510 L700,1470 L690,1450 L750,1420 L800,1400 L870,1380 L860,1280 L920,1260 Z"/>
<path fill="#e07000" d="M1080,1120 L1120,1080 L1160,1050 L1170,1000 L1200,990 L1250,990 L1280,1010 L1310,1090 L1290,1180 L1290,1280 L1290,1380 L1260,1430 L1220,1480 L1190,1520 L1170,1540 L1140,1520 L1130,1450 L1110,1400 L1120,1330 L1080,1290 L1060,1240 L1070,1150 Z"/>
<path fill="#e07000" d="M1280,1000 L1330,940 L1370,900 L1390,820 L1410,740 L1440,700 L1500,710 L1580,700 L1650,690 L1710,690 L1730,800 L1770,830 L1740,870 L1690,900 L1680,960 L1670,1020 L1640,1050 L1620,1100 L1660,1140 L1620,1160 L1570,1180 L1510,1220 L1500,1300 L1500,1400 L1510,1460 L1560,1480 L1570,1540 L1550,1630 L1300,1630 L1250,1580 L1200,1530 L1230,1480 L1270,1430 L1290,1380 L1290,1280 L1290,1180 L1310,1090 Z"/>
<path fill="#8e0045" d="M1150,1580 L1200,1540 L1250,1540 L1300,1560 L1340,1630 L1100,1630 Z"/>
<path fill="#90d0f0" d="M1730,690 L1800,700 L1900,700 L2000,700 L2100,710 L2200,720 L2300,730 L2300,1000 L2200,960 L2100,930 L2000,960 L1960,990 L1900,990 L1850,1000 L1800,980 L1760,1000 L1700,1020 L1670,1020 L1680,960 L1690,900 L1740,870 L1770,830 L1730,800 Z"/>
<path fill="#41aff0" d="M1640,1050 L1700,1020 L1760,1000 L1800,980 L1850,1000 L1900,990 L1960,990 L2000,1050 L2050,1100 L2080,1180 L2060,1260 L2030,1330 L1990,1370 L2000,1420 L2060,1460 L2090,1530 L2100,1630 L1550,1630 L1570,1540 L1560,1480 L1510,1460 L1500,1400 L1500,1300 L1510,1220 L1570,1180 L1620,1160 L1660,1140 L1620,1100 Z"/>
<path fill="#90d0f0" d="M1960,990 L2000,960 L2100,930 L2200,920 L2300,920 L2300,1630 L2100,1630 L2090,1530 L2060,1460 L2000,1420 L1990,1370 L2030,1330 L2060,1260 L2080,1180 L2050,1100 L2000,1050 Z"/>
</g></g>
<!--V5 3.246x 1700,1300-->
<g clip-path="url(#cV5)"><g transform="translate(1700 1300) scale(0.30807)" stroke-width="10">
<path fill="#90d0f0" d="M1240,170 L1300,185 L1400,180 L1500,185 L1600,195 L1700,210 L1800,260 L1900,330 L1980,400 L2040,470 L2080,550 L2100,620 L2110,700 L2130,800 L2120,880 L2110,960 L2080,1060 L2040,1150 L1800,1050 L1600,1040 L1490,1020 L1540,980 L1530,900 L1520,800 L1480,760 L1420,740 L1440,680 L1470,650 L1520,600 L1510,500 L1450,430 L1400,420 L1300,410 L1200,440 L1180,380 L1230,320 L1260,280 L1250,240 Z"/>
<path fill="#41aff0" d="M1200,440 L1300,410 L1400,420 L1450,430 L1510,500 L1520,600 L1470,650 L1440,680 L1420,740 L1480,760 L1520,800 L1530,900 L1540,980 L1490,1020 L1430,1030 L1380,1010 L1300,1000 L1200,1010 L1180,990 L1200,940 L1100,920 L1090,850 L1100,780 L1050,740 L1060,620 L1100,580 L1160,540 L1180,480 Z"/>
<path fill="#8e0045" d="M1940,530 L2030,470 L2080,550 L2100,620 L2110,700 L2130,800 L2120,850 L2060,840 L2030,790 L2040,740 L2010,680 L2000,640 L1960,610 L1950,560 Z"/>
<path fill="#8e0045" d="M1790,960 L1850,900 L1900,880 L1950,870 L2000,860 L2060,860 L2120,880 L2110,960 L2080,1060 L2040,1070 L1980,1060 L1920,1070 L1860,1040 L1820,1000 Z"/>
<path fill="#d1eefc" d="M1640,600 L1690,570 L1750,610 L1740,660 L1700,690 L1660,660 Z"/>
<path fill="#41aff0" d="M920,1000 L960,950 L1040,930 L1100,920 L1200,940 L1180,990 L1200,1010 L1300,1000 L1380,1010 L1430,1040 L1400,1100 L1370,1150 L1320,1200 L1300,1250 L1310,1290 L1250,1300 L1180,1310 L1150,1400 L1140,1470 L1080,1490 L1000,1500 L940,1450 L950,1400 L1010,1370 L1060,1300 L1080,1250 L1060,1200 L1020,1190 L960,1100 L920,1050 Z"/>
<path fill="#8e0045" d="M1300,1220 L1340,1150 L1420,1080 L1440,1040 L1500,1030 L1600,1040 L1700,1040 L1790,990 L1830,1030 L1800,1100 L1790,1150 L1740,1200 L1700,1260 L1680,1300 L1640,1330 L1620,1400 L1580,1440 L1530,1470 L1480,1450 L1440,1400 L1420,1350 L1380,1330 L1340,1300 L1310,1260 Z"/>
<path fill="#90d0f0" d="M1800,1060 L1860,1040 L1920,1070 L1980,1060 L2040,1070 L2040,1150 L2020,1250 L2010,1350 L1960,1420 L1900,1500 L1850,1560 L1820,1630 L1700,1630 L1650,1560 L1620,1500 L1600,1450 L1640,1380 L1680,1310 L1740,1220 L1790,1160 Z"/>
<path fill="#e07000" d="M1160,1420 L1250,1400 L1350,1380 L1430,1390 L1480,1450 L1530,1480 L1600,1470 L1650,1540 L1700,1630 L1280,1630 L1220,1540 L1200,1480 Z"/>
<path fill="#e07000" d="M940,1520 L1020,1500 L1100,1490 L1180,1470 L1220,1540 L1280,1630 L960,1630 Z"/>
<path fill="#8e0045" d="M620,1080 L700,980 L770,900 L820,870 L880,880 L920,920 L950,960 L920,1010 L940,1050 L970,1100 L1000,1150 L1020,1200 L1000,1230 L950,1250 L930,1300 L940,1380 L940,1450 L930,1500 L900,1530 L850,1560 L800,1500 L740,1520 L660,1560 L640,1630 L380,1630 L400,1560 L450,1530 L440,1460 L420,1400 L440,1330 L460,1280 L500,1230 L520,1180 L560,1130 L600,1100 Z"/>
<path fill="#41aff0" d="M940,1400 L1000,1380 L1100,1390 L1160,1400 L1170,1460 L1100,1490 L1020,1500 L940,1480 Z"/>
<path fill="#e07000" d="M130,680 L200,650 L300,640 L400,630 L500,620 L540,650 L545,720 L400,790 L420,820 L470,880 L520,870 L570,930 L610,1000 L610,1080 L580,1120 L540,1160 L500,1200 L460,1250 L440,1300 L420,1380 L380,1380 L330,1310 L260,1270 L230,1200 L160,1130 L130,1080 L200,1000 L240,950 L230,870 L180,800 L140,750 Z"/>
<path fill="#0096e0" d="M400,790 L545,720 L550,650 L600,560 L700,540 L710,620 L740,700 L760,860 L700,940 L640,990 L600,990 L570,930 L520,870 L470,880 L420,820 Z"/>
<path fill="#e07000" d="M710,560 L760,500 L800,430 L850,420 L880,460 L900,500 L880,560 L870,640 L880,700 L860,760 L820,820 L790,860 L760,830 L740,760 L740,700 L710,620 Z"/>
<path fill="#90d0f0" d="M0,1250 L60,1200 L130,1160 L200,1200 L230,1260 L260,1280 L330,1320 L380,1380 L430,1400 L420,1460 L380,1480 L300,1520 L200,1520 L100,1500 L0,1480 Z"/>
<path fill="#41aff0" d="M0,1560 L100,1520 L200,1520 L300,1520 L380,1480 L430,1420 L440,1500 L420,1560 L400,1630 L0,1630 Z"/>
<path fill="#90d0f0" d="M660,1560 L740,1520 L800,1500 L850,1560 L900,1530 L950,1560 L960,1630 L650,1630 Z"/>
</g></g>
<!--V7 4x 1148,1440-->
<g clip-path="url(#cV7)"><g transform="translate(1148 1440) scale(0.25)" stroke-width="12">
<path fill="#90d0f0" d="M370,180 L420,140 L480,130 L540,60 L600,50 L650,70 L680,100 L700,160 L690,250 L700,300 L660,340 L620,330 L580,320 L520,330 L490,380 L510,440 L560,470 L520,520 L520,600 L530,660 L480,670 L420,660 L390,620 L380,560 L400,500 L420,450 L400,400 L380,330 L370,250 Z"/>
<path fill="#90d0f0" d="M660,120 L700,90 L760,70 L800,100 L800,180 L790,240 L760,280 L730,300 L700,280 L690,200 Z"/>
<path fill="#90d0f0" d="M880,40 L950,0 L1100,-10 L1150,40 L1100,80 L1040,110 L960,100 L900,70 Z"/>
<path fill="#41aff0" d="M770,20 L830,20 L880,40 L900,80 L960,110 L1040,130 L1100,170 L1150,200 L1140,230 L1100,260 L1080,300 L1050,340 L1000,360 L960,380 L900,360 L860,370 L840,330 L810,290 L790,240 L800,180 L800,100 L780,60 Z"/>
<path fill="#41aff0" d="M1050,60 L1100,30 L1160,10 L1200,0 L1290,0 L1290,60 L1260,100 L1230,140 L1190,170 L1150,200 L1100,170 L1060,120 Z"/>
<path fill="#41aff0" d="M490,380 L520,330 L580,310 L620,330 L650,360 L650,420 L620,460 L570,470 L520,440 L500,420 Z"/>
<path fill="#0096e0" d="M640,390 L680,340 L740,300 L780,280 L810,310 L830,370 L840,420 L800,450 L740,460 L690,450 L660,420 Z"/>
<path fill="#41aff0" d="M510,540 L560,470 L610,490 L630,540 L640,600 L620,620 L690,620 L750,600 L770,560 L790,500 L840,460 L880,380 L920,370 L960,420 L990,490 L980,540 L940,560 L900,600 L880,680 L860,720 L800,740 L720,760 L700,730 L640,700 L560,690 L530,680 Z"/>
<path fill="#8e0045" d="M630,480 L680,450 L740,450 L780,470 L770,510 L750,540 L740,600 L700,610 L660,600 L620,610 L650,560 L640,520 Z"/>
<path fill="#e07000" d="M1010,300 L1060,280 L1100,290 L1100,340 L1080,370 L1050,380 L1030,350 L1010,330 Z"/>
<path fill="#e07000" d="M540,690 L590,680 L620,660 L660,680 L700,700 L720,760 L800,740 L870,740 L850,800 L830,870 L850,880 L800,890 L760,900 L720,930 L680,940 L640,920 L620,880 L590,840 L580,780 L560,730 Z"/>
<path fill="#41aff0" d="M260,770 L300,760 L320,700 L350,670 L400,660 L460,680 L520,680 L560,720 L570,780 L540,830 L520,850 L480,850 L440,840 L420,880 L380,870 L340,860 L300,850 L260,860 L250,820 Z"/>
<path fill="#41aff0" d="M880,690 L940,690 L1000,700 L1060,700 L1120,700 L1140,730 L1130,770 L1100,790 L1060,800 L1000,800 L940,790 L880,790 L870,740 Z"/>
<path fill="#41aff0" d="M1150,700 L1200,690 L1280,690 L1340,710 L1330,750 L1300,770 L1260,780 L1200,770 L1160,760 Z"/>
<path fill="#90d0f0" d="M960,800 L1000,800 L1060,800 L1100,790 L1140,770 L1200,770 L1260,780 L1300,770 L1320,810 L1340,860 L1350,900 L1320,930 L1280,970 L1240,1010 L1200,1040 L1150,1040 L1110,1010 L1070,970 L1010,920 L970,880 L960,840 Z"/>
<path fill="#90d0f0" d="M990,400 L1010,360 L1050,340 L1080,300 L1100,260 L1150,230 L1190,260 L1260,240 L1340,230 L1420,230 L1500,220 L1550,250 L1530,320 L1490,370 L1450,410 L1430,460 L1450,520 L1440,540 L1400,540 L1360,510 L1300,480 L1250,470 L1210,480 L1180,500 L1140,520 L1080,540 L1030,540 L1000,520 L980,470 Z"/>
<path fill="#41aff0" d="M1210,500 L1260,480 L1320,480 L1340,520 L1330,580 L1280,590 L1220,570 Z"/>
<path fill="#41aff0" d="M1310,760 L1360,700 L1430,680 L1500,670 L1560,680 L1600,740 L1640,760 L1680,720 L1760,700 L1840,720 L1900,700 L1960,740 L2000,780 L2040,820 L2030,880 L2010,930 L1960,960 L1900,950 L1850,970 L1880,1060 L1920,1090 L1950,1120 L1940,1180 L1950,1240 L1920,1300 L1900,1360 L1860,1380 L1820,1350 L1770,1330 L1700,1360 L1650,1400 L1600,1430 L1550,1440 L1510,1420 L1490,1360 L1480,1300 L1500,1240 L1480,1190 L1470,1140 L1520,1100 L1510,1060 L1540,1000 L1560,960 L1530,910 L1480,870 L1420,850 L1370,830 L1330,810 Z"/>
<path fill="#d1eefc" d="M1840,980 L1900,950 L1960,960 L2010,930 L2030,980 L2040,1040 L2020,1080 L1960,1100 L1920,1090 L1880,1060 Z"/>
<path fill="#41aff0" d="M2020,820 L2060,800 L2120,790 L2180,820 L2210,870 L2200,940 L2150,1000 L2140,1050 L2100,1080 L2060,1070 L2040,1020 L2030,950 L2030,880 Z"/>
<path fill="#e07000" d="M1960,1220 L2000,1180 L2040,1150 L2080,1120 L2130,1100 L2180,1100 L2220,1140 L2250,1200 L2240,1270 L2210,1340 L2220,1400 L2200,1470 L2150,1460 L2100,1420 L2050,1400 L2000,1370 L1990,1300 L1980,1250 Z"/>
<path fill="#90d0f0" d="M2150,520 L2200,490 L2240,520 L2260,560 L2230,600 L2230,700 L2210,780 L2180,800 L2140,790 L2100,780 L2050,760 L2010,720 L1950,680 L1950,620 L2000,560 L2050,530 L2100,520 Z"/>
<path fill="#41aff0" d="M2030,530 L2080,500 L2140,470 L2200,470 L2230,500 L2240,550 L2200,590 L2150,600 L2100,580 L2060,580 Z"/>
<path fill="#41aff0" d="M170,1430 L220,1410 L280,1420 L320,1430 L360,1480 L390,1530 L400,1630 L180,1630 L160,1550 Z"/>
</g></g>
<!--B3 2x 1148,1580-->
<g transform="translate(1148 1580) scale(0.5)" stroke-width="6">
<path fill="#90d0f0" d="M150,1250 L180,1160 L210,1080 L200,1000 L190,940 L180,880 L200,810 L240,800 L300,760 L340,740 L400,760 L440,790 L440,860 L460,900 L500,910 L540,900 L570,880 L590,880 L600,950 L620,1000 L630,1050 L610,1120 L560,1150 L540,1200 L560,1280 L580,1340 L520,1360 L460,1370 L400,1360 L340,1350 L280,1330 L220,1290 Z"/>
<path fill="#8e0045" d="M100,1400 L150,1300 L200,1280 L250,1320 L300,1360 L340,1370 L400,1360 L460,1370 L520,1370 L570,1380 L620,1400 L660,1440 L700,1480 L740,1520 L680,1532 L630,1558 L606,1582 L558,1594 L460,1600 L386,1606 L338,1630 L290,1625 L250,1590 L200,1560 L160,1530 L120,1470 Z"/>
<path fill="#8e0045" d="M606,1636 L656,1618 L680,1598 L728,1580 L764,1564 L800,1582 L840,1600 L880,1624 L830,1660 L780,1700 L740,1690 L700,1660 L650,1648 Z"/>
<path fill="#41aff0" d="M440,800 L480,760 L520,750 L550,790 L560,850 L540,900 L500,910 L460,900 L440,860 Z"/>
<path fill="#41aff0" d="M520,560 L560,500 L620,470 L680,460 L720,490 L740,530 L730,600 L730,660 L700,700 L650,720 L600,730 L550,720 L530,680 L520,620 Z"/>
<path fill="#41aff0" d="M590,880 L640,860 L700,850 L760,860 L800,870 L840,880 L880,900 L910,960 L920,1000 L880,1010 L830,1020 L760,1010 L700,1020 L660,1030 L620,1000 L600,950 Z"/>
<path fill="#8e0045" d="M670,1040 L700,1020 L760,1010 L830,1020 L880,1010 L920,1030 L930,1080 L920,1150 L900,1200 L870,1220 L830,1180 L780,1170 L720,1180 L690,1140 L670,1100 Z"/>
<path fill="#41aff0" d="M680,1200 L720,1180 L780,1170 L830,1180 L870,1220 L880,1300 L890,1400 L880,1440 L820,1420 L780,1380 L740,1330 L700,1280 L680,1240 Z"/>
<path fill="#41aff0" d="M870,1220 L920,1190 L970,1170 L1000,1160 L1040,1200 L1060,1260 L1000,1280 L960,1330 L970,1400 L980,1480 L1000,1540 L960,1540 L920,1520 L900,1460 L890,1400 L880,1300 Z"/>
<path fill="#90d0f0" d="M960,1330 L1000,1280 L1080,1260 L1150,1250 L1210,1250 L1260,1240 L1320,1220 L1370,1230 L1370,1300 L1380,1380 L1360,1450 L1330,1500 L1280,1520 L1220,1530 L1150,1540 L1080,1560 L1040,1570 L1000,1540 L980,1480 L970,1400 Z"/>
<path fill="#e07000" d="M1070,1520 L1100,1490 L1160,1470 L1210,1470 L1260,1480 L1250,1520 L1200,1540 L1150,1540 L1090,1550 Z"/>
<path fill="#8e0045" d="M1410,1360 L1450,1330 L1490,1350 L1500,1400 L1510,1460 L1530,1520 L1520,1560 L1480,1560 L1440,1540 L1420,1500 L1400,1450 Z"/>
<path fill="#41aff0" d="M1480,1220 L1540,1210 L1600,1220 L1650,1240 L1700,1270 L1690,1320 L1690,1400 L1690,1480 L1700,1530 L1650,1540 L1600,1560 L1560,1540 L1520,1520 L1500,1470 L1490,1400 L1480,1300 Z"/>
<path fill="#8e0045" d="M1690,1300 L1720,1270 L1800,1270 L1850,1300 L1880,1340 L1920,1370 L1980,1380 L1950,1420 L1900,1450 L1850,1470 L1800,1500 L1760,1530 L1730,1550 L1700,1530 L1690,1480 L1690,1400 Z"/>
<path fill="#0096e0" d="M1790,1440 L1820,1420 L1850,1430 L1840,1460 L1800,1470 Z"/>
<path fill="#41aff0" d="M1710,1060 L1760,1030 L1820,1020 L1860,1050 L1870,1110 L1850,1170 L1800,1190 L1740,1180 L1710,1140 Z"/>
<path fill="#41aff0" d="M1860,1100 L1900,1070 L1960,1080 L2010,1090 L2050,1130 L2060,1200 L2040,1260 L2000,1290 L1950,1280 L1900,1270 L1860,1230 L1850,1170 Z"/>
<path fill="#41aff0" d="M2036,972 L2100,990 L2176,1000 L2176,1100 L2150,1156 L2100,1150 L2060,1140 L2040,1080 Z"/>
<path fill="#90d0f0" d="M2166,1014 L2230,1010 L2280,1000 L2276,1080 L2276,1188 L2240,1230 L2180,1260 L2100,1290 L2040,1280 L2060,1200 L2060,1140 L2150,1156 Z"/>
<path fill="#8e0045" d="M2166,952 L2220,950 L2290,952 L2292,990 L2280,1010 L2230,1015 L2170,1020 Z"/>
<path fill="#8e0045" d="M1660,900 L1700,880 L1760,900 L1820,920 L1880,940 L1920,960 L1960,990 L2010,1010 L2040,1040 L2030,1090 L1990,1100 L1950,1090 L1900,1060 L1860,1040 L1820,1010 L1780,1000 L1740,1010 L1700,1020 L1680,990 L1660,950 Z"/>
<path fill="#e07000" d="M1540,850 L1580,820 L1620,820 L1650,850 L1660,900 L1640,950 L1600,960 L1560,940 L1540,900 Z"/>
<path fill="#8e0045" d="M1440,740 L1480,720 L1530,740 L1580,760 L1640,790 L1700,780 L1760,770 L1820,770 L1880,770 L1940,760 L2000,760 L1990,800 L1960,830 L1920,860 L1880,880 L1820,880 L1760,860 L1700,870 L1650,860 L1600,850 L1560,860 L1520,860 L1480,850 L1450,820 Z"/>
<path fill="#41aff0" d="M950,770 L1000,740 L1060,750 L1100,780 L1110,830 L1070,840 L1010,840 L960,830 Z"/>
<path fill="#90d0f0" d="M850,420 L900,400 L960,390 L1020,400 L1060,430 L1080,480 L1100,540 L1090,590 L1100,590 L1140,600 L1170,640 L1180,700 L1150,720 L1100,700 L1060,620 L1000,610 L950,600 L900,590 L860,560 L850,500 Z"/>
<path fill="#41aff0" d="M650,80 L700,50 L760,40 L800,20 L850,30 L900,60 L960,80 L1000,60 L1030,80 L1020,130 L1050,170 L1080,200 L1100,250 L1090,270 L1060,230 L1020,210 L960,220 L930,260 L960,300 L1000,320 L1010,360 L990,380 L1000,410 L960,400 L910,390 L860,400 L830,420 L790,440 L770,450 L750,430 L740,380 L760,340 L770,300 L740,280 L730,250 L760,220 L780,180 L760,150 L720,130 L680,120 Z"/>
<path fill="#d1eefc" d="M930,200 L970,190 L1010,210 L1000,250 L960,260 L930,240 Z"/>
<path fill="#e07000" d="M980,320 L1020,300 L1060,280 L1100,270 L1110,300 L1120,340 L1110,380 L1100,420 L1090,450 L1050,460 L1020,430 L1000,390 L990,360 Z"/>
<path fill="#90d0f0" d="M1110,200 L1150,170 L1200,150 L1250,200 L1290,240 L1290,300 L1270,340 L1230,360 L1180,370 L1140,350 L1120,300 L1110,250 Z"/>
<path fill="#41aff0" d="M1090,450 L1110,380 L1130,340 L1180,370 L1230,360 L1270,340 L1300,300 L1330,290 L1370,310 L1390,340 L1380,380 L1350,410 L1320,440 L1270,460 L1250,500 L1240,540 L1210,580 L1180,570 L1150,540 L1120,510 L1100,480 Z"/>
<path fill="#e07000" d="M1690,380 L1740,360 L1800,350 L1850,360 L1870,400 L1880,470 L1870,540 L1860,580 L1830,620 L1800,640 L1780,600 L1760,540 L1740,480 L1720,440 Z"/>
<path fill="#41aff0" d="M1810,600 L1860,580 L1920,590 L1960,620 L1990,640 L2000,680 L1990,720 L1950,750 L1900,760 L1850,760 L1810,720 L1800,660 Z"/>
<path fill="#41aff0" d="M1870,470 L1920,440 L1980,450 L2020,470 L2030,520 L2000,560 L1960,580 L1920,580 L1880,560 L1870,520 Z"/>
<path fill="#8e0045" d="M1990,480 L2030,460 L2080,450 L2130,450 L2170,470 L2160,520 L2130,570 L2080,600 L2050,610 L2020,590 L2010,540 Z"/>
<path fill="#41aff0" d="M130,130 L160,60 L230,50 L280,60 L300,100 L290,140 L250,150 L200,140 L150,140 Z"/>
<path fill="#e07000" d="M280,90 L300,60 L340,50 L360,80 L400,90 L430,80 L440,110 L420,140 L400,160 L360,170 L340,190 L320,170 L300,130 Z"/>
<path fill="#90d0f0" d="M480,130 L540,110 L600,100 L650,120 L680,150 L670,200 L640,230 L600,240 L560,230 L520,200 L490,160 Z"/>
</g>
<!--V8 5.41x 1680,1740-->
<g clip-path="url(#cV8)"><g transform="translate(1680 1740) scale(0.18484)" stroke-width="16">
<path fill="#41aff0" d="M50,550 L80,440 L100,320 L100,200 L160,80 L200,60 L300,150 L330,190 L380,120 L420,160 L480,120 L530,60 L560,30 L580,0 L850,0 L840,170 L800,240 L760,300 L700,350 L660,320 L600,340 L540,360 L490,400 L480,500 L520,600 L480,640 L420,660 L380,700 L330,720 L320,760 L280,720 L230,660 L150,620 L80,590 Z"/>
<path fill="#8e0045" d="M490,400 L540,360 L600,340 L660,320 L700,350 L760,300 L800,240 L840,170 L850,0 L1650,0 L1660,60 L1680,150 L1640,170 L1560,110 L1500,80 L1420,90 L1380,60 L1350,120 L1300,150 L1240,160 L1200,300 L1240,340 L1270,380 L1280,450 L1280,560 L1350,580 L1370,620 L1330,660 L1330,740 L1370,780 L1420,820 L1500,800 L1560,840 L1610,870 L1620,940 L1600,1000 L1650,1020 L1700,1060 L1720,1130 L1760,1160 L1850,1180 L1950,1200 L2050,1180 L2170,1170 L2170,1630 L1100,1630 L1000,1500 L900,1400 L800,1380 L700,1250 L640,1200 L560,1220 L480,1200 L420,1250 L350,1270 L320,1200 L330,1120 L350,1060 L430,1020 L470,1000 L500,980 L470,900 L450,830 L470,760 L530,720 L570,700 L520,600 L480,500 Z"/>
<path fill="#41aff0" d="M750,500 L800,480 L850,500 L860,560 L840,610 L790,600 L750,560 Z"/>
<path fill="#e07000" d="M710,780 L720,720 L780,700 L820,660 L840,720 L860,800 L900,880 L940,940 L930,1000 L900,1060 L860,1050 L800,1000 L760,960 L730,900 L700,830 Z"/>
<path fill="#d1eefc" d="M540,1100 L600,1060 L660,1000 L720,960 L780,1000 L840,1040 L860,1100 L800,1140 L740,1160 L680,1180 L600,1200 L550,1180 Z"/>
<path fill="#e07000" d="M850,1110 L900,1070 L960,1060 L1040,1070 L1090,1100 L1080,1180 L1060,1240 L1000,1250 L930,1250 L900,1200 L860,1160 Z"/>
<path fill="#41aff0" d="M1050,1230 L1100,1180 L1140,1200 L1130,1280 L1110,1350 L1070,1380 L1040,1320 Z"/>
<path fill="#41aff0" d="M450,1100 L490,1060 L530,1080 L540,1140 L500,1180 L460,1170 Z"/>
<path fill="#90d0f0" d="M1200,300 L1240,160 L1300,150 L1350,120 L1380,60 L1420,90 L1500,80 L1560,110 L1640,170 L1700,190 L1720,260 L1730,350 L1720,440 L1760,520 L1830,600 L1860,640 L1800,670 L1720,640 L1700,700 L1650,760 L1600,790 L1550,800 L1500,800 L1420,820 L1370,780 L1330,740 L1330,660 L1370,620 L1350,580 L1280,560 L1280,450 L1270,380 L1240,340 Z"/>
<path fill="#90d0f0" d="M1610,870 L1600,790 L1650,760 L1700,700 L1720,640 L1800,670 L1860,640 L1900,700 L1960,800 L2000,900 L2030,1000 L2050,1100 L2040,1170 L1950,1190 L1850,1180 L1760,1160 L1720,1130 L1700,1060 L1650,1020 L1600,1000 L1620,940 Z"/>
<path fill="#e07000" d="M1680,160 L1760,120 L1850,110 L1950,90 L2050,60 L2170,50 L2170,700 L2100,720 L2050,800 L2000,870 L1960,830 L1920,700 L1880,640 L1830,600 L1760,520 L1720,440 L1730,350 L1720,260 L1700,190 Z"/>
<path fill="#41aff0" d="M2000,870 L2050,800 L2100,720 L2170,700 L2170,1140 L2060,1150 L2050,1100 L2030,1000 L2010,930 Z"/>
</g></g>
<!--V9 5.41x 1640,1980-->
<g clip-path="url(#cV9)"><g transform="translate(1640 1980) scale(0.18484)" stroke-width="16">
<path fill="#d1eefc" d="M590,0 L760,0 L760,100 L710,140 L750,190 L700,250 L640,320 L590,300 Z"/>
<path fill="#d1eefc" d="M960,140 L1040,130 L1250,130 L1250,300 L1200,400 L1110,450 L1060,400 L1000,390 L960,370 L950,300 L960,230 Z"/>
<path fill="#d1eefc" d="M1110,450 L1160,410 L1220,420 L1260,470 L1300,540 L1330,620 L1300,680 L1250,700 L1200,720 L1160,700 L1120,640 L1150,580 L1150,500 Z"/>
<path fill="#d1eefc" d="M1650,580 L1790,620 L1860,600 L1960,560 L2000,500 L2060,450 L2100,520 L2170,560 L2170,640 L2080,700 L2020,780 L1970,860 L1990,960 L1920,960 L1850,940 L1760,960 L1710,970 L1690,940 L1660,880 L1680,830 L1720,800 L1740,750 L1760,680 L1790,620 Z"/>
<path fill="#d1eefc" d="M1010,1130 L1050,1060 L1100,1050 L1150,1070 L1160,1150 L1130,1210 L1060,1240 L1020,1200 Z"/>
<path fill="#d1eefc" d="M360,700 L400,650 L450,620 L500,600 L560,610 L610,620 L630,660 L600,700 L550,740 L520,790 L470,790 L420,760 L380,730 Z"/>
<path fill="#8e0045" d="M1040,0 L1880,0 L1880,100 L1800,130 L1600,120 L1400,130 L1250,130 L1100,120 Z"/>
<path fill="#41aff0" d="M300,0 L580,0 L590,60 L580,120 L560,200 L520,240 L480,230 L440,200 L380,180 L340,170 L310,120 Z"/>
<path fill="#0096e0" d="M60,170 L120,140 L180,90 L240,70 L280,120 L300,200 L340,240 L400,260 L460,250 L510,270 L530,310 L500,350 L440,360 L400,380 L380,420 L400,480 L380,500 L330,500 L300,460 L320,420 L340,380 L290,350 L250,340 L200,350 L150,360 L110,340 L100,300 L80,250 L70,210 Z"/>
<path fill="#e07000" d="M340,180 L380,160 L440,190 L480,220 L530,240 L560,270 L560,300 L520,280 L470,250 L410,230 L360,210 Z"/>
<path fill="#41aff0" d="M710,140 L760,110 L820,100 L860,120 L920,140 L950,180 L960,230 L900,250 L840,240 L780,220 L750,190 Z"/>
<path fill="#0096e0" d="M850,60 L900,20 L940,0 L980,40 L1000,90 L1020,130 L960,140 L900,130 L860,110 Z"/>
<path fill="#8e0045" d="M540,330 L580,300 L620,310 L660,350 L700,380 L740,430 L730,470 L700,500 L650,520 L600,500 L580,450 L560,400 Z"/>
<path fill="#8e0045" d="M670,370 L700,320 L740,280 L800,250 L860,250 L900,240 L940,260 L950,300 L900,310 L850,330 L800,360 L760,380 L720,410 L700,380 Z"/>
<path fill="#90d0f0" d="M770,380 L800,350 L850,320 L880,280 L920,290 L950,320 L960,370 L930,400 L900,430 L860,460 L820,450 L790,420 Z"/>
<path fill="#41aff0" d="M420,470 L450,400 L500,380 L560,400 L600,460 L620,520 L610,580 L580,610 L530,600 L480,580 L440,540 Z"/>
<path fill="#8e0045" d="M100,590 L130,540 L150,480 L140,420 L150,360 L200,350 L250,340 L290,350 L340,380 L320,420 L300,460 L330,500 L300,530 L260,560 L200,580 L170,620 L130,630 Z"/>
<path fill="#90d0f0" d="M180,660 L220,590 L280,550 L340,530 L400,520 L450,540 L490,580 L450,620 L400,650 L370,670 L340,700 L300,710 L260,740 L230,770 L200,720 Z"/>
<path fill="#8e0045" d="M80,950 L140,890 L200,900 L230,840 L240,780 L300,720 L330,700 L380,730 L420,760 L470,790 L520,800 L540,740 L600,700 L640,680 L680,700 L740,720 L760,690 L820,670 L880,660 L920,700 L950,780 L980,830 L990,900 L1000,950 L1010,1010 L1060,1040 L1000,1090 L900,1120 L800,1160 L720,1180 L620,1220 L500,1250 L400,1260 L300,1270 L220,1250 L180,1200 L120,1150 L90,1080 Z"/>
<path fill="#8e0045" d="M640,580 L660,530 L700,500 L740,470 L800,460 L850,500 L870,560 L860,620 L830,670 L780,690 L740,700 L690,690 L650,650 Z"/>
<path fill="#8e0045" d="M890,620 L900,560 L930,520 L960,480 L980,420 L1000,470 L1000,560 L990,620 L960,680 L930,700 L900,680 Z"/>
<path fill="#90d0f0" d="M970,420 L1000,390 L1060,400 L1120,440 L1150,500 L1150,580 L1100,620 L1060,630 L1020,600 L990,540 L980,480 Z"/>
<path fill="#41aff0" d="M1240,430 L1300,410 L1380,400 L1460,400 L1540,420 L1570,460 L1560,550 L1520,600 L1480,650 L1450,700 L1410,720 L1380,690 L1350,640 L1320,580 L1290,520 Z"/>
<path fill="#41aff0" d="M960,760 L990,700 L1020,650 L1060,630 L1100,660 L1140,700 L1150,760 L1130,850 L1120,920 L1140,980 L1150,1030 L1100,1040 L1050,1010 L1020,960 L1000,900 L980,830 Z"/>
<path fill="#8e0045" d="M1150,740 L1200,700 L1250,680 L1300,640 L1340,660 L1380,700 L1410,740 L1420,820 L1420,900 L1430,980 L1430,1080 L1330,1080 L1240,1090 L1170,1080 L1150,1030 L1130,980 L1130,900 L1140,820 Z"/>
<path fill="#e07000" d="M1430,720 L1460,680 L1500,630 L1540,580 L1560,520 L1590,460 L1640,430 L1700,440 L1760,460 L1820,470 L1840,520 L1860,600 L1790,620 L1760,680 L1740,750 L1720,800 L1680,830 L1660,880 L1690,940 L1710,970 L1680,1010 L1650,1050 L1620,1100 L1560,1090 L1500,1090 L1450,1080 L1440,1000 L1430,920 L1430,820 Z"/>
<path fill="#e07000" d="M1600,1100 L1650,1050 L1700,1000 L1760,960 L1850,940 L1920,960 L1980,990 L2050,1040 L2120,1060 L2170,1070 L2170,1340 L2100,1310 L2020,1270 L1940,1230 L1880,1190 L1800,1160 L1720,1140 L1650,1130 Z"/>
<path fill="#8e0045" d="M1850,350 L1900,330 L1980,340 L2060,360 L2080,400 L2060,450 L2000,500 L1960,560 L1900,600 L1860,580 L1850,480 Z"/>
<path fill="#8e0045" d="M1880,0 L2170,0 L2170,330 L2080,320 L1980,300 L1900,280 L1860,200 L1860,100 Z"/>
<path fill="#e07000" d="M1480,300 L1520,250 L1560,200 L1600,170 L1650,180 L1680,230 L1640,300 L1600,360 L1560,400 L1500,400 Z"/>
<path fill="#41aff0" d="M1970,860 L2020,780 L2080,700 L2140,650 L2170,640 L2170,1060 L2100,1050 L2040,1010 L1990,960 Z"/>
<path fill="#90d0f0" d="M0,1330 L60,1300 L150,1260 L220,1250 L300,1270 L400,1260 L500,1250 L620,1220 L720,1180 L800,1160 L900,1120 L1000,1090 L1040,1180 L1040,1260 L1020,1350 L1000,1450 L1010,1550 L1000,1630 L0,1630 Z"/>
<path fill="#41aff0" d="M1040,1260 L1060,1230 L1130,1210 L1160,1150 L1170,1100 L1250,1090 L1330,1090 L1420,1090 L1500,1090 L1580,1100 L1650,1130 L1720,1140 L1800,1160 L1880,1190 L1930,1230 L1900,1280 L1880,1350 L1880,1450 L1900,1550 L1900,1630 L1000,1630 L1010,1550 L1000,1450 L1020,1350 Z"/>
<path fill="#8e0045" d="M1200,1520 L1260,1470 L1340,1450 L1380,1500 L1420,1560 L1450,1630 L1200,1630 Z"/>
<path fill="#8e0045" d="M1890,1300 L1930,1250 L2000,1260 L2080,1300 L2170,1340 L2170,1630 L1900,1630 L1880,1500 L1880,1380 Z"/>
<path fill="#41aff0" d="M0,960 L60,980 L90,1050 L120,1150 L180,1200 L200,1250 L150,1260 L60,1300 L0,1330 Z"/>
<path fill="#41aff0" d="M130,760 L170,710 L210,720 L220,800 L210,870 L150,880 L130,820 Z"/>
</g></g>
<!--V15 small-->
<g transform="translate(1150 1560) scale(0.26132)" stroke-width="13">
<path fill="#41aff0" d="M530,1090 L570,1040 L630,1070 L650,1110 L620,1160 L570,1140 L540,1120 Z"/>
<path fill="#90d0f0" d="M370,1180 L400,1140 L440,1130 L470,1170 L460,1220 L420,1240 L380,1230 Z"/>
</g>
<!--W1 3.182x 1600,1900-->
<g transform="translate(1600 1900) scale(0.31427)" stroke-width="11">
<path fill="#90d0f0" d="M1640,1090 L1700,1030 L1760,1000 L1830,960 L1900,940 L1980,920 L1990,960 L1930,980 L1860,1010 L1810,1060 L1800,1120 L1820,1190 L1760,1190 L1700,1140 Z"/>
<path fill="#e07000" d="M1370,860 L1440,880 L1480,900 L1500,960 L1490,1020 L1470,1070 L1420,1060 L1380,1035 Z"/>
<path fill="#8e0045" d="M820,1150 L900,1110 L960,1150 L1000,1200 L1040,1250 L1050,1350 L1070,1420 L1000,1420 L940,1380 L900,1330 L860,1300 L830,1220 Z"/>
<path fill="#8e0045" d="M740,1280 L800,1270 L840,1300 L880,1350 L900,1390 L850,1380 L790,1360 L740,1340 Z"/>
</g>
<!--B1-->
<g transform="translate(1148 40) scale(0.5)" stroke-width="6">
<path fill="#41aff0" d="M180,1020 L195,1010 L240,1015 L275,975 L320,960 L355,945 L395,965 L430,920 L460,905 L510,905 L545,915 L560,930 L580,935 L600,935 L610,960 L615,1005 L650,1000 L660,970 L690,960 L705,1000 L715,1040 L735,1060 L700,1090 L690,1140 L650,1170 L620,1185 L575,1190 L550,1165 L520,1170 L505,1240 L475,1255 L435,1270 L420,1290 L375,1310 L340,1295 L310,1300 L275,1305 L270,1250 L250,1230 L220,1200 L190,1170 L195,1140 L205,1110 L180,1090 L170,1060 Z"/>
<path fill="#41aff0" d="M660,1160 L680,1150 L720,1165 L790,1170 L780,1185 L760,1195 L740,1200 L730,1230 L745,1270 L720,1280 L700,1300 L670,1290 L655,1260 L650,1230 L655,1200 Z"/>
<path fill="#41aff0" d="M545,775 L580,770 L625,780 L630,765 L650,810 L615,815 L580,815 L555,800 Z"/>
<path fill="#8e0045" d="M440,880 L455,850 L490,850 L520,875 L565,880 L575,910 L580,935 L550,930 L540,915 L510,905 L470,905 L440,905 Z"/>
</g>
</g>
</g>
<!-- WHITE LINES2 -->
<g id="wl" fill="none" stroke="#fff" stroke-linejoin="round" stroke-linecap="round">
<g transform="translate(550 2100) scale(0.34843)" stroke-width="10"><path d="M820,130 L820,190 L740,195 L740,240 L780,280 L840,310 L900,340 L920,380 L910,420 L900,460 L910,500 L880,520 L820,540 L800,580 L780,550 L740,545 L670,550 L660,520 L600,510 L600,480 L630,450 L580,440 L560,410 L500,390 L460,390 L440,380"/><path d="M440,400 L430,360 L460,300 L520,300 L550,320 L560,360"/><path d="M160,500 L210,495 L230,540 L240,580 L220,630 L200,670 L250,700 L270,720 L280,780 L300,830 L310,860"/><path d="M670,550 L660,580 L680,620 L690,660"/><path d="M920,420 L990,410 L1000,400 L1060,390 L1090,400"/><path d="M830,760 L870,740 L930,750 L960,740 L1000,730 L1040,720 L1090,700 L1120,670 L1170,640 L1190,600 L1220,580 L1260,580 L1300,560 L1350,560"/><path d="M950,790 L960,810 L1010,830 L1030,850 L1050,900 L1060,940"/><path d="M950,750 L1000,740 L1020,770 L1020,820 L980,830 L950,800 L950,750"/><path d="M1350,560 L1380,620 L1440,650 L1490,690 L1460,730 L1450,800"/><path d="M1720,580 L1750,470 L1800,450 L1840,470 L1860,500"/><path d="M1960,750 L1980,820 L1970,880 L1960,910"/></g>
<g transform="translate(1150 1560) scale(0.26132)" stroke-width="13"><path d="M380,360 L390,450 L430,500 L400,560 L410,620 L460,650 L490,700 L480,800 L500,860 L540,860 L510,900 L480,950 L420,960 L370,1000"/><path d="M410,560 L500,560 L480,640 L420,650 L410,560"/><path d="M650,440 L660,520 L740,510 L750,600 L720,640 L780,680 L840,680 L900,720 L930,740 L960,780 L1000,840 L1040,870 L1080,880 L1040,940 L1030,980"/><path d="M920,740 L880,760 L820,800 L810,830 L850,870 L860,930 L880,940"/><path d="M500,920 L560,900 L620,880 L700,880 L760,860 L820,900 L880,940"/><path d="M1070,880 L1120,900 L1160,950 L1190,980 L1190,860 L1200,780 L1240,740 L1300,720 L1340,740 L1380,700 L1400,640"/><path d="M760,960 L760,1000 L800,1040 L830,1100 L790,1110 L780,1140"/><path d="M850,1480 L880,1440 L900,1500 L960,1480 L1000,1450 L1040,1470"/><path d="M1010,1460 L1000,1500 L1030,1560 L1030,1623"/><path d="M1380,1280 L1400,1300 L1460,1260 L1500,1280 L1560,1250 L1610,1250"/><path d="M1600,900 L1640,960 L1670,1000 L1650,1050 L1670,1100 L1690,1200 L1620,1230"/></g>
<g transform="translate(150 40) scale(0.5)" stroke-width="8"><path d="M2296,150 L2260,195 L2225,240 L2185,252 L2197,268 L2225,310 L2235,370 L2255,400 L2225,430 L2180,460 L2145,505 L2095,520 L2030,585 L2010,625 L1990,665 L1925,700 L1860,770 L1810,775 L1808,815"/></g>
<g transform="translate(1148 40) scale(0.5)" stroke-width="8"><path d="M335,100 L310,110 L300,140 L270,175 L240,215 L190,255 L210,290 L235,330 L250,395 L230,415 L185,460 L170,505 L115,510 L70,540 L30,590 L10,630 L0,640"/></g>
<g stroke-width="4"><path d="M982,1605 L1000,1590 L1020,1570 L1035,1540 L1045,1500 L1055,1480 L1040,1468 L1015,1446 L1012,1420 L1022,1400 L1040,1378 L1065,1366 L1090,1376 L1115,1380 L1127,1370 L1122,1356 L1092,1350 L1085,1330 L1075,1305 L1065,1283 L1075,1268"/></g>
<g transform="translate(150 1580) scale(0.5)" stroke-width="8"><path d="M1670,0 L1680,40 L1720,90 L1790,120 L1800,170 L1760,220 L1740,280 L1725,330 L1740,380 L1750,440 L1780,480 L1820,500 L1860,530 L1900,560 L1940,590 L1980,600 L1975,650 L1970,720 L1985,760"/></g>
<g transform="translate(900 300) scale(0.26132)" stroke-width="13.0">
<path d="M950,270 L960,320 L1000,360 L1040,380 L1060,420 L1090,440 L1140,440 L1150,510 L1080,540 L1060,560 L1060,620 L1040,660 L1080,700 L1060,760 L1030,790 L1050,830 L1070,880 L1110,910 L1150,900 L1190,860 L1220,840 L1250,880 L1280,910 L1310,940"/>
<path d="M590,490 L610,520 L600,560 L590,600 L560,640 L520,700 L550,740 L580,790 L600,840 L600,880 L620,920 L650,950 L640,990 L610,1020 L640,1050 L640,1100 L560,1100 L540,1140 L540,1250 L600,1270 L610,1300 L600,1360 L610,1440"/>
<path d="M650,960 L700,930 L730,880 L770,860 L830,890 L900,880 L940,890 L960,850 L1000,830 L1050,840"/>
<path d="M60,1250 L100,1250 L140,1290 L200,1270 L250,1310 L270,1370 L330,1400 L400,1440 L420,1480 L450,1520 L470,1580 L500,1600"/>
<path d="M450,1510 L520,1480 L580,1450 L620,1440 L660,1460 L700,1500 L760,1470 L820,1480 L860,1520 L920,1540 L960,1570 L1000,1600"/>
<path d="M1850,660 L1860,590 L1880,540 L1910,500 L1930,460 L1980,450 L2000,490 L2000,520 L2040,520"/>
<path d="M2100,760 L2110,800 L2120,860 L2130,930 L2180,930 L2200,880 L2210,840 L2260,820"/>
</g>
<g transform="translate(900 600) scale(0.25)" stroke-width="13.6">
<path d="M60,100 L100,100 L150,130 L200,120 L250,150 L280,230 L330,260 L420,300 L440,360 L480,390"/>
<path d="M560,0 L560,100 L620,100 L640,130 L630,170 L640,200 L640,300"/>
<path d="M480,380 L540,330 L600,310 L660,310 L700,340 L740,370 L780,330 L860,350 L900,390 L980,420 L1040,470 L1090,510 L1140,520 L1160,550 L1220,540 L1300,550"/>
<path d="M480,390 L520,450 L480,480 L440,560 L400,620 L410,700 L430,760"/>
<path d="M1300,550 L1380,630 L1360,700 L1370,760"/>
<path d="M1300,550 L1380,500 L1390,440 L1420,400 L1500,400 L1540,380 L1630,350 L1700,370 L1740,390"/>
<path d="M1360,770 L1300,780 L1220,790 L1130,850 L1030,860 L990,900 L960,910 L930,880 L850,850 L800,890"/>
<path d="M1370,760 L1420,780 L1480,760 L1520,790 L1590,800 L1640,850 L1690,900"/>
<path d="M1690,900 L1780,850 L1880,790 L1940,770 L2000,760 L2040,750"/>
<path d="M2000,760 L2040,700 L2080,620 L2090,560 L2130,500 L2150,440 L2200,400 L2260,380"/>
</g>
<g transform="translate(1300 640) scale(0.26132)" stroke-width="13.0">
<path d="M380,70 L440,90 L500,130 L540,180 L560,200 L600,190 L640,180 L660,150"/>
<path d="M640,200 L620,240 L560,240 L540,280 L530,320 L510,380 L470,400 L460,450 L450,500 L400,520"/>
<path d="M1060,200 L1130,210 L1110,180 L1080,150 L1130,140 L1180,150 L1250,150 L1250,100 L1270,60 L1300,40"/>
<path d="M1040,220 L1040,290 L1020,300 L1040,370 L1000,430 L990,400 L940,350 L870,360 L840,400 L860,440 L860,480 L890,530 L900,590 L910,640 L960,670 L1000,690 L1020,720 L1080,760 L1090,800 L1060,840 L1050,880 L1060,910"/>
<path d="M1040,290 L1080,290 L1130,320 L1160,300 L1280,340 L1300,390 L1350,370 L1400,360 L1470,350 L1490,400 L1530,440 L1510,470 L1500,520 L1510,600 L1490,640 L1560,660 L1600,640 L1660,620 L1690,680"/>
<path d="M830,1110 L900,1160 L960,1200 L1000,1240 L990,1280 L1020,1340 L1000,1400 L1040,1460 L1100,1480 L1160,1460 L1200,1440"/>
</g>
<g transform="translate(1000 1200) scale(0.21777)" stroke-width="15.6">
<path d="M870,0 L880,90 L940,110 L980,150 L1040,170 L1060,200 L1010,240 L1000,260 L1020,300 L1030,340 L980,300 L930,290 L920,350 L870,360 L820,390 L770,370 L720,390 L680,420 L650,460 L610,460 L580,520 L560,560 L600,610 L650,620 L640,680 L610,720"/>
<path d="M380,450 L400,500 L420,550 L440,620 L450,680 L480,720 L530,710 L580,720 L620,720 L680,700 L740,720 L760,790 L830,800 L850,760 L900,770 L950,740 L1030,720"/>
<path d="M1020,930 L1010,1000 L990,1060 L930,1080 L900,1070 L760,1100 L690,1190 L670,1240 L720,1290 L720,1320 L800,1380 L830,1430 L900,1470 L950,1490 L970,1400 L980,1320 L1000,1280 L1020,1240 L1090,1250"/>
<path d="M1000,1060 L1040,1140 L1100,1220 L1130,1260 L1170,1290 L1200,1260 L1280,1230 L1310,1160 L1360,1170 L1400,1180 L1450,1200 L1500,1200 L1560,1180"/>
<path d="M1020,930 L1060,880 L1140,840 L1160,850"/>
<path d="M1460,870 L1520,900 L1560,960 L1580,1000 L1560,1050 L1550,1090 L1560,1130 L1570,1180"/>
</g>
</g>
<!-- LABELS -->
<g id="labels">
<circle cx="1420.5" cy="464" r="14.5" fill="#404040" stroke="#fff" stroke-width="3"/>
<circle cx="1445.5" cy="999" r="14.5" fill="#404040" stroke="#fff" stroke-width="3"/>
<circle cx="1261" cy="1145" r="14.5" fill="#404040" stroke="#fff" stroke-width="3"/>
<circle cx="1072" cy="1172" r="14.5" fill="#404040" stroke="#fff" stroke-width="3"/>
<circle cx="1470.5" cy="1185" r="14.5" fill="#404040" stroke="#fff" stroke-width="3"/>
<circle cx="1554" cy="1379" r="14.5" fill="#404040" stroke="#fff" stroke-width="3"/>
<circle cx="1353" cy="1592.5" r="14.5" fill="#404040" stroke="#fff" stroke-width="3"/>
<circle cx="1915.6" cy="1706.7" r="14.5" fill="#404040" stroke="#fff" stroke-width="3"/>
<circle cx="1535.5" cy="1919" r="14.5" fill="#404040" stroke="#fff" stroke-width="3"/>
<circle cx="1856" cy="2019" r="14.5" fill="#404040" stroke="#fff" stroke-width="3"/>
<circle cx="1163" cy="2055" r="14.5" fill="#404040" stroke="#fff" stroke-width="3"/>
<circle cx="1493" cy="2300" r="14.5" fill="#404040" stroke="#fff" stroke-width="3"/>
<text class="lab" x="1436" y="481" textLength="483" lengthAdjust="spacingAndGlyphs">NEWCASTLE UPON TYNE</text>
<text class="lab" x="1463" y="1016" textLength="116" lengthAdjust="spacingAndGlyphs">LEEDS</text>
<text class="lab" x="971" y="1125" textLength="272" lengthAdjust="spacingAndGlyphs">MANCHESTER</text>
<text class="lab" x="1089" y="1192.5" textLength="217" lengthAdjust="spacingAndGlyphs">LIVERPOOL</text>
<text class="lab" x="1484" y="1202.5" textLength="205" lengthAdjust="spacingAndGlyphs">SHEFFIELD</text>
<text class="lab" x="1572" y="1397" textLength="282" lengthAdjust="spacingAndGlyphs">NOTTINGHAM</text>
<text class="lab" x="1372" y="1610" textLength="277" lengthAdjust="spacingAndGlyphs">BIRMINGHAM</text>
<text class="lab" x="1930" y="1726.7" textLength="245" lengthAdjust="spacingAndGlyphs">CAMBRIDGE</text>
<text class="lab" x="1552" y="1937.5" textLength="167" lengthAdjust="spacingAndGlyphs">OXFORD</text>
<text class="lab" x="1872" y="2039" textLength="176" lengthAdjust="spacingAndGlyphs">LONDON</text>
<text class="lab" x="1177" y="2075" textLength="162" lengthAdjust="spacingAndGlyphs">BRISTOL</text>
<text class="lab" x="1509" y="2319" textLength="320" lengthAdjust="spacingAndGlyphs">SOUTHAMPTON</text>
</g>
</svg>
<!-- LEGEND -->
<svg width="4000" height="2828" viewBox="0 0 4000 2828" xmlns="http://www.w3.org/2000/svg">
<g class="t">
<text x="2205" y="199" font-weight="bold" font-size="96.5" fill="#606060" textLength="916" lengthAdjust="spacingAndGlyphs">Housing Delivery Test</text>
<text x="2203" y="316" font-size="86" fill="#606060" textLength="1440" lengthAdjust="spacingAndGlyphs">2018 measurement and consequence</text>
<g font-weight="bold" font-size="70" fill="#606060">
<text x="2373" y="423" textLength="190" lengthAdjust="spacingAndGlyphs">Buffer</text>
<text x="2371" y="514" textLength="353" lengthAdjust="spacingAndGlyphs">Action plan</text>
<text x="2374" y="607" textLength="531" lengthAdjust="spacingAndGlyphs">No consequence:</text>
<text x="3771" y="423" textLength="118" lengthAdjust="spacingAndGlyphs">(86)</text>
<text x="3771" y="515" textLength="118" lengthAdjust="spacingAndGlyphs">(21)</text>
<text x="3732" y="607" textLength="157" lengthAdjust="spacingAndGlyphs">(219)</text>
</g>
<g font-size="70" fill="#8c8c8c">
<text x="2378" y="715" textLength="1157" lengthAdjust="spacingAndGlyphs">Delivered 95-100% of homes required</text>
<text x="2378" y="808" textLength="1195" lengthAdjust="spacingAndGlyphs">Delivered 100-125% of homes required</text>
<text x="2378" y="900" textLength="1195" lengthAdjust="spacingAndGlyphs">Delivered 125-150% of homes required</text>
<text x="2378" y="992" textLength="1211" lengthAdjust="spacingAndGlyphs">Delivered over 150% of homes required</text>
<text x="3770" y="715" textLength="116" lengthAdjust="spacingAndGlyphs">(14)</text>
<text x="3770" y="808" textLength="116" lengthAdjust="spacingAndGlyphs">(77)</text>
<text x="3770" y="900" textLength="116" lengthAdjust="spacingAndGlyphs">(55)</text>
<text x="3770" y="992" textLength="116" lengthAdjust="spacingAndGlyphs">(73)</text>
</g>
</g>
<g stroke-width="3.5">
<rect x="2193" y="357" width="169" height="78" fill="none" stroke="#d0d0d0" stroke-width="2"/>
<rect x="2197" y="361" width="161" height="70" fill="#8e0045" stroke="#111"/>
<rect x="2193" y="451" width="169" height="77" fill="none" stroke="#d0d0d0" stroke-width="2"/>
<rect x="2197" y="455" width="161" height="69" fill="#e07000" stroke="#111"/>
<line x1="2193" y1="543" x2="2362" y2="543" stroke="#d8d8d8" stroke-width="2"/>
<rect x="2196" y="652" width="170" height="77" fill="none" stroke="#d0d0d0" stroke-width="2"/>
<rect x="2200" y="656" width="162" height="69" fill="#0096e0" stroke="#111"/>
<rect x="2196" y="744" width="170" height="77" fill="none" stroke="#d0d0d0" stroke-width="2"/>
<rect x="2200" y="748" width="162" height="69" fill="#41aff0" stroke="#111"/>
<rect x="2196" y="837" width="170" height="77" fill="none" stroke="#d0d0d0" stroke-width="2"/>
<rect x="2200" y="841" width="162" height="69" fill="#90d0f0" stroke="#111"/>
<rect x="2196" y="929" width="170" height="77" fill="none" stroke="#d0d0d0" stroke-width="2"/>
<rect x="2200" y="933" width="162" height="69" fill="#d1eefc" stroke="#111"/>
</g>
<text class="t" x="3298" y="2676" font-weight="bold" font-size="213" fill="#687582" textLength="588" lengthAdjust="spacingAndGlyphs">Turley</text>
</svg>
</body></html>
